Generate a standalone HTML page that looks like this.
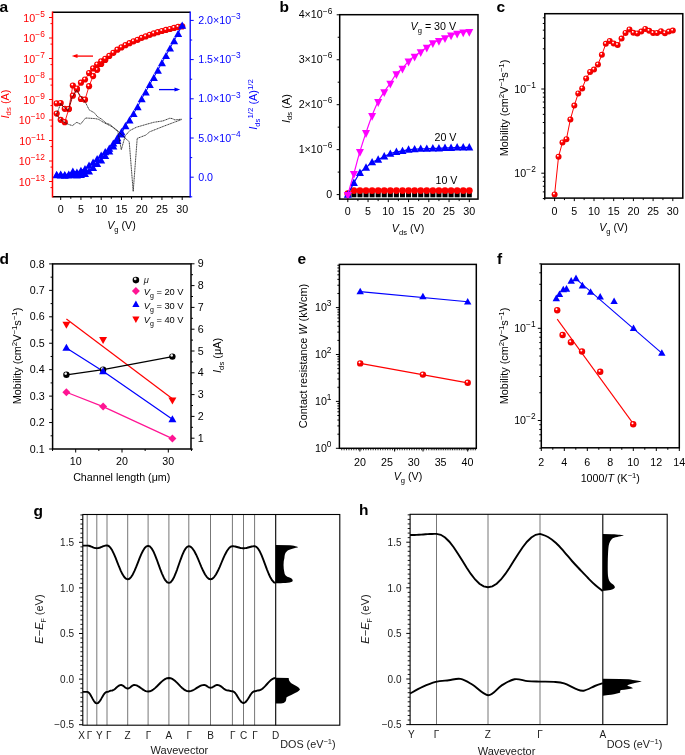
<!DOCTYPE html><html><head><meta charset="utf-8"><style>html,body{margin:0;padding:0;background:#fff;}svg{display:block;will-change:transform;}</style></head><body>
<svg width="685" height="755" viewBox="0 0 685 755" font-family='"Liberation Sans", sans-serif'>
<defs>
<radialGradient id="gr" cx="0.42" cy="0.38" r="0.62" fx="0.38" fy="0.33"><stop offset="0" stop-color="#fff"/><stop offset="0.1" stop-color="#fff"/><stop offset="0.36" stop-color="#f00"/><stop offset="1" stop-color="#e80000"/></radialGradient>
<radialGradient id="gk" cx="0.4" cy="0.35" r="0.6" fx="0.38" fy="0.3"><stop offset="0" stop-color="#fff"/><stop offset="0.22" stop-color="#ddd"/><stop offset="0.45" stop-color="#000"/><stop offset="1" stop-color="#000"/></radialGradient>
</defs>
<rect width="685" height="755" fill="#fff"/>
<text x="-0.5" y="12" font-size="15.5" text-anchor="start" fill="#000" font-weight="bold" font-style="normal" >a</text>
<text x="279.5" y="11.5" font-size="15.5" text-anchor="start" fill="#000" font-weight="bold" font-style="normal" >b</text>
<text x="496.5" y="11.5" font-size="15.5" text-anchor="start" fill="#000" font-weight="bold" font-style="normal" >c</text>
<text x="-0.5" y="264.3" font-size="15.5" text-anchor="start" fill="#000" font-weight="bold" font-style="normal" >d</text>
<text x="297.5" y="264.3" font-size="15.5" text-anchor="start" fill="#000" font-weight="bold" font-style="normal" >e</text>
<text x="497" y="264" font-size="15.5" text-anchor="start" fill="#000" font-weight="bold" font-style="normal" >f</text>
<text x="33.5" y="516" font-size="15.5" text-anchor="start" fill="#000" font-weight="bold" font-style="normal" >g</text>
<text x="359" y="514.8" font-size="15.5" text-anchor="start" fill="#000" font-weight="bold" font-style="normal" >h</text>
<polyline points="56.65,103.4 60.7,103 64.75,108.8 68.8,109.1 72.85,95.7 76.9,89.5 80.95,99 85,99.7 89.05,86.2 93.1,76.1 97.15,69.8 101.2,64 105.25,60" fill="none" stroke="#ff0000" stroke-width="0.9" stroke-linejoin="round" />
<polyline points="56.65,113.6 60.7,119.8 64.75,122.2 68.8,109 72.85,85.5 76.9,88.5 80.95,82.7 85,79.5 89.05,73.1 93.1,68.4 97.15,64.5 101.2,61.4 105.25,58.8 109.3,55.9 113.35,52.8 117.4,49.7 121.45,47.4 125.5,45.2 129.55,43.2 133.6,41.3 137.65,39.8 141.7,37.8 145.75,36.4 149.8,34.8 153.85,33.4 157.9,32.2 161.95,31 166,29.9 170.05,29 174.1,27.9 178.15,26.9 182.2,26.4" fill="none" stroke="#ff0000" stroke-width="0.9" stroke-linejoin="round" />
<circle cx="56.65" cy="103.4" r="3.1" fill="url(#gr)"/>
<circle cx="60.7" cy="103" r="3.1" fill="url(#gr)"/>
<circle cx="64.75" cy="108.8" r="3.1" fill="url(#gr)"/>
<circle cx="68.8" cy="109.1" r="3.1" fill="url(#gr)"/>
<circle cx="72.85" cy="95.7" r="3.1" fill="url(#gr)"/>
<circle cx="76.9" cy="89.5" r="3.1" fill="url(#gr)"/>
<circle cx="80.95" cy="99" r="3.1" fill="url(#gr)"/>
<circle cx="85" cy="99.7" r="3.1" fill="url(#gr)"/>
<circle cx="89.05" cy="86.2" r="3.1" fill="url(#gr)"/>
<circle cx="93.1" cy="76.1" r="3.1" fill="url(#gr)"/>
<circle cx="97.15" cy="69.8" r="3.1" fill="url(#gr)"/>
<circle cx="101.2" cy="64" r="3.1" fill="url(#gr)"/>
<circle cx="105.25" cy="60" r="3.1" fill="url(#gr)"/>
<circle cx="56.65" cy="113.6" r="3.1" fill="url(#gr)"/>
<circle cx="60.7" cy="119.8" r="3.1" fill="url(#gr)"/>
<circle cx="64.75" cy="122.2" r="3.1" fill="url(#gr)"/>
<circle cx="68.8" cy="109" r="3.1" fill="url(#gr)"/>
<circle cx="72.85" cy="85.5" r="3.1" fill="url(#gr)"/>
<circle cx="76.9" cy="88.5" r="3.1" fill="url(#gr)"/>
<circle cx="80.95" cy="82.7" r="3.1" fill="url(#gr)"/>
<circle cx="85" cy="79.5" r="3.1" fill="url(#gr)"/>
<circle cx="89.05" cy="73.1" r="3.1" fill="url(#gr)"/>
<circle cx="93.1" cy="68.4" r="3.1" fill="url(#gr)"/>
<circle cx="97.15" cy="64.5" r="3.1" fill="url(#gr)"/>
<circle cx="101.2" cy="61.4" r="3.1" fill="url(#gr)"/>
<circle cx="105.25" cy="58.8" r="3.1" fill="url(#gr)"/>
<circle cx="109.3" cy="55.9" r="3.1" fill="url(#gr)"/>
<circle cx="113.35" cy="52.8" r="3.1" fill="url(#gr)"/>
<circle cx="117.4" cy="49.7" r="3.1" fill="url(#gr)"/>
<circle cx="121.45" cy="47.4" r="3.1" fill="url(#gr)"/>
<circle cx="125.5" cy="45.2" r="3.1" fill="url(#gr)"/>
<circle cx="129.55" cy="43.2" r="3.1" fill="url(#gr)"/>
<circle cx="133.6" cy="41.3" r="3.1" fill="url(#gr)"/>
<circle cx="137.65" cy="39.8" r="3.1" fill="url(#gr)"/>
<circle cx="141.7" cy="37.8" r="3.1" fill="url(#gr)"/>
<circle cx="145.75" cy="36.4" r="3.1" fill="url(#gr)"/>
<circle cx="149.8" cy="34.8" r="3.1" fill="url(#gr)"/>
<circle cx="153.85" cy="33.4" r="3.1" fill="url(#gr)"/>
<circle cx="157.9" cy="32.2" r="3.1" fill="url(#gr)"/>
<circle cx="161.95" cy="31" r="3.1" fill="url(#gr)"/>
<circle cx="166" cy="29.9" r="3.1" fill="url(#gr)"/>
<circle cx="170.05" cy="29" r="3.1" fill="url(#gr)"/>
<circle cx="174.1" cy="27.9" r="3.1" fill="url(#gr)"/>
<circle cx="178.15" cy="26.9" r="3.1" fill="url(#gr)"/>
<circle cx="182.2" cy="26.4" r="3.1" fill="url(#gr)"/>
<polyline points="56.65,174.6 60.7,174.8 64.75,175.2 68.8,175 72.85,174.5 76.9,174.8 80.95,174.5 85,173.5 89.05,171 93.1,167.4 97.15,163.4 101.2,159.9 105.25,155.5 109.3,151 113.35,146 117.4,140.5 121.45,134 125.5,125.7" fill="none" stroke="#0000ff" stroke-width="1" stroke-linejoin="round" />
<polyline points="56.65,174.5 60.7,174 64.75,174.5 68.8,174 72.85,171 76.9,172 80.95,170.4 85,168.6 89.05,165.1 93.1,162.2 97.15,158.7 101.2,155.2 105.25,151.7 109.3,148.2 113.35,143 117.4,137.7 121.45,131.6 125.5,125.7 129.55,119.9 133.6,113.5 137.65,106.7 141.7,98.7 145.75,91.9 149.8,84.4 153.85,77.3 157.9,70.1 161.95,62.6 166,55.5 170.05,48 174.1,40.6 178.15,33.4 182.2,25.2" fill="none" stroke="#0000ff" stroke-width="1" stroke-linejoin="round" />
<polygon points="56.65,171 52.65,178.2 60.65,178.2" fill="#0000ff"/>
<polygon points="60.7,171.2 56.7,178.4 64.7,178.4" fill="#0000ff"/>
<polygon points="64.75,171.6 60.75,178.8 68.75,178.8" fill="#0000ff"/>
<polygon points="68.8,171.4 64.8,178.6 72.8,178.6" fill="#0000ff"/>
<polygon points="72.85,170.9 68.85,178.1 76.85,178.1" fill="#0000ff"/>
<polygon points="76.9,171.2 72.9,178.4 80.9,178.4" fill="#0000ff"/>
<polygon points="80.95,170.9 76.95,178.1 84.95,178.1" fill="#0000ff"/>
<polygon points="85,169.9 81,177.1 89,177.1" fill="#0000ff"/>
<polygon points="89.05,167.4 85.05,174.6 93.05,174.6" fill="#0000ff"/>
<polygon points="93.1,163.8 89.1,171 97.1,171" fill="#0000ff"/>
<polygon points="97.15,159.8 93.15,167 101.15,167" fill="#0000ff"/>
<polygon points="101.2,156.3 97.2,163.5 105.2,163.5" fill="#0000ff"/>
<polygon points="105.25,151.9 101.25,159.1 109.25,159.1" fill="#0000ff"/>
<polygon points="109.3,147.4 105.3,154.6 113.3,154.6" fill="#0000ff"/>
<polygon points="113.35,142.4 109.35,149.6 117.35,149.6" fill="#0000ff"/>
<polygon points="117.4,136.9 113.4,144.1 121.4,144.1" fill="#0000ff"/>
<polygon points="121.45,130.4 117.45,137.6 125.45,137.6" fill="#0000ff"/>
<polygon points="56.65,170.9 52.65,178.1 60.65,178.1" fill="#0000ff"/>
<polygon points="60.7,170.4 56.7,177.6 64.7,177.6" fill="#0000ff"/>
<polygon points="64.75,170.9 60.75,178.1 68.75,178.1" fill="#0000ff"/>
<polygon points="68.8,170.4 64.8,177.6 72.8,177.6" fill="#0000ff"/>
<polygon points="72.85,167.4 68.85,174.6 76.85,174.6" fill="#0000ff"/>
<polygon points="76.9,168.4 72.9,175.6 80.9,175.6" fill="#0000ff"/>
<polygon points="80.95,166.8 76.95,174 84.95,174" fill="#0000ff"/>
<polygon points="85,165 81,172.2 89,172.2" fill="#0000ff"/>
<polygon points="89.05,161.5 85.05,168.7 93.05,168.7" fill="#0000ff"/>
<polygon points="93.1,158.6 89.1,165.8 97.1,165.8" fill="#0000ff"/>
<polygon points="97.15,155.1 93.15,162.3 101.15,162.3" fill="#0000ff"/>
<polygon points="101.2,151.6 97.2,158.8 105.2,158.8" fill="#0000ff"/>
<polygon points="105.25,148.1 101.25,155.3 109.25,155.3" fill="#0000ff"/>
<polygon points="109.3,144.6 105.3,151.8 113.3,151.8" fill="#0000ff"/>
<polygon points="113.35,139.4 109.35,146.6 117.35,146.6" fill="#0000ff"/>
<polygon points="117.4,134.1 113.4,141.3 121.4,141.3" fill="#0000ff"/>
<polygon points="121.45,128 117.45,135.2 125.45,135.2" fill="#0000ff"/>
<polygon points="125.5,122.1 121.5,129.3 129.5,129.3" fill="#0000ff"/>
<polygon points="129.55,116.3 125.55,123.5 133.55,123.5" fill="#0000ff"/>
<polygon points="133.6,109.9 129.6,117.1 137.6,117.1" fill="#0000ff"/>
<polygon points="137.65,103.1 133.65,110.3 141.65,110.3" fill="#0000ff"/>
<polygon points="141.7,95.1 137.7,102.3 145.7,102.3" fill="#0000ff"/>
<polygon points="145.75,88.3 141.75,95.5 149.75,95.5" fill="#0000ff"/>
<polygon points="149.8,80.8 145.8,88 153.8,88" fill="#0000ff"/>
<polygon points="153.85,73.7 149.85,80.9 157.85,80.9" fill="#0000ff"/>
<polygon points="157.9,66.5 153.9,73.7 161.9,73.7" fill="#0000ff"/>
<polygon points="161.95,59 157.95,66.2 165.95,66.2" fill="#0000ff"/>
<polygon points="166,51.9 162,59.1 170,59.1" fill="#0000ff"/>
<polygon points="170.05,44.4 166.05,51.6 174.05,51.6" fill="#0000ff"/>
<polygon points="174.1,37 170.1,44.2 178.1,44.2" fill="#0000ff"/>
<polygon points="178.15,29.8 174.15,37 182.15,37" fill="#0000ff"/>
<polygon points="182.2,21.6 178.2,28.8 186.2,28.8" fill="#0000ff"/>
<polyline points="56.4,114.3 58.6,109.2 60.8,103.4 63.7,107 68.1,110.7 71.7,98.2 76.5,90.2 81.2,96.8 84.5,101.2 86.3,104.1 89.2,109.9 94.3,112.8 97.3,116.5 102,119.4 106,123.1 110,124.5 115.4,129.6 117.9,131.1 120,133 123.2,136.4 125,138 129.2,141.7 133.2,191.4 137.2,138.4 145.8,135.1 149.7,131.8 163,126.5 173.6,122.5 181.5,119.6" fill="none" stroke="#111" stroke-width="0.8" stroke-linejoin="round" stroke-dasharray="1.3,0.4"/>
<polyline points="56.4,115 60.4,119.4 65.9,123.1 68.8,124.5 72.4,125.6 76.8,122.3 80.5,124.2 85.6,118 90.7,118.3 95.8,118.7 98.7,119.4 102,121.5 104.9,123.1 113,127.2 117.7,130.7 121.3,149.7 125.2,135.8 129.9,130.5 136.5,127.2 145.8,124.5 153.7,122.3 163,120.9 169.6,118.3 172,118.5 174.9,119.9 181.5,119.2" fill="none" stroke="#111" stroke-width="0.8" stroke-linejoin="round" stroke-dasharray="1.3,0.4"/>
<line x1="52.5" y1="12.2" x2="190.2" y2="12.2" stroke="#000" stroke-width="1.5" />
<line x1="52.5" y1="196.8" x2="190.2" y2="196.8" stroke="#000" stroke-width="1.5" />
<line x1="52.5" y1="11.5" x2="52.5" y2="197.5" stroke="#ff0000" stroke-width="1.5" />
<line x1="190.2" y1="11.5" x2="190.2" y2="197.5" stroke="#0000ff" stroke-width="1.3" />
<line x1="49" y1="17.5" x2="52.5" y2="17.5" stroke="#ff0000" stroke-width="1" />
<line x1="50.5" y1="23.6" x2="52.5" y2="23.6" stroke="#ff0000" stroke-width="1" />
<text transform="translate(44.8,21.7) scale(1.02,1)" font-size="10.5" text-anchor="end" fill="#ff0000" font-weight="normal" font-style="normal" >10<tspan dy="-4.9" font-size="8.2">−5</tspan></text>
<line x1="49" y1="38" x2="52.5" y2="38" stroke="#ff0000" stroke-width="1" />
<line x1="50.5" y1="44.1" x2="52.5" y2="44.1" stroke="#ff0000" stroke-width="1" />
<text transform="translate(44.8,42.2) scale(1.02,1)" font-size="10.5" text-anchor="end" fill="#ff0000" font-weight="normal" font-style="normal" >10<tspan dy="-4.9" font-size="8.2">−6</tspan></text>
<line x1="49" y1="58.5" x2="52.5" y2="58.5" stroke="#ff0000" stroke-width="1" />
<line x1="50.5" y1="64.6" x2="52.5" y2="64.6" stroke="#ff0000" stroke-width="1" />
<text transform="translate(44.8,62.7) scale(1.02,1)" font-size="10.5" text-anchor="end" fill="#ff0000" font-weight="normal" font-style="normal" >10<tspan dy="-4.9" font-size="8.2">−7</tspan></text>
<line x1="49" y1="79" x2="52.5" y2="79" stroke="#ff0000" stroke-width="1" />
<line x1="50.5" y1="85.1" x2="52.5" y2="85.1" stroke="#ff0000" stroke-width="1" />
<text transform="translate(44.8,83.2) scale(1.02,1)" font-size="10.5" text-anchor="end" fill="#ff0000" font-weight="normal" font-style="normal" >10<tspan dy="-4.9" font-size="8.2">−8</tspan></text>
<line x1="49" y1="99.5" x2="52.5" y2="99.5" stroke="#ff0000" stroke-width="1" />
<line x1="50.5" y1="105.6" x2="52.5" y2="105.6" stroke="#ff0000" stroke-width="1" />
<text transform="translate(44.8,103.7) scale(1.02,1)" font-size="10.5" text-anchor="end" fill="#ff0000" font-weight="normal" font-style="normal" >10<tspan dy="-4.9" font-size="8.2">−9</tspan></text>
<line x1="49" y1="120" x2="52.5" y2="120" stroke="#ff0000" stroke-width="1" />
<line x1="50.5" y1="126.1" x2="52.5" y2="126.1" stroke="#ff0000" stroke-width="1" />
<text transform="translate(44.8,124.2) scale(1.02,1)" font-size="10.5" text-anchor="end" fill="#ff0000" font-weight="normal" font-style="normal" >10<tspan dy="-4.9" font-size="8.2">−10</tspan></text>
<line x1="49" y1="140.5" x2="52.5" y2="140.5" stroke="#ff0000" stroke-width="1" />
<line x1="50.5" y1="146.6" x2="52.5" y2="146.6" stroke="#ff0000" stroke-width="1" />
<text transform="translate(44.8,144.7) scale(1.02,1)" font-size="10.5" text-anchor="end" fill="#ff0000" font-weight="normal" font-style="normal" >10<tspan dy="-4.9" font-size="8.2">−11</tspan></text>
<line x1="49" y1="161" x2="52.5" y2="161" stroke="#ff0000" stroke-width="1" />
<line x1="50.5" y1="167.1" x2="52.5" y2="167.1" stroke="#ff0000" stroke-width="1" />
<text transform="translate(44.8,165.2) scale(1.02,1)" font-size="10.5" text-anchor="end" fill="#ff0000" font-weight="normal" font-style="normal" >10<tspan dy="-4.9" font-size="8.2">−12</tspan></text>
<line x1="49" y1="181.5" x2="52.5" y2="181.5" stroke="#ff0000" stroke-width="1" />
<line x1="50.5" y1="187.6" x2="52.5" y2="187.6" stroke="#ff0000" stroke-width="1" />
<text transform="translate(44.8,185.7) scale(1.02,1)" font-size="10.5" text-anchor="end" fill="#ff0000" font-weight="normal" font-style="normal" >10<tspan dy="-4.9" font-size="8.2">−13</tspan></text>
<line x1="190.2" y1="177.2" x2="193.7" y2="177.2" stroke="#0000ff" stroke-width="1" />
<line x1="190.2" y1="157.6" x2="192.2" y2="157.6" stroke="#0000ff" stroke-width="1" />
<text transform="translate(198.2,180.8) scale(1.02,1)" font-size="10.5" text-anchor="start" fill="#0000ff" font-weight="normal" font-style="normal" >0.0</text>
<line x1="190.2" y1="138" x2="193.7" y2="138" stroke="#0000ff" stroke-width="1" />
<line x1="190.2" y1="118.4" x2="192.2" y2="118.4" stroke="#0000ff" stroke-width="1" />
<text transform="translate(198.2,141.6) scale(1.02,1)" font-size="10.5" text-anchor="start" fill="#0000ff" font-weight="normal" font-style="normal" >5.0×10<tspan dy="-4.9" font-size="8.2">−4</tspan></text>
<line x1="190.2" y1="98.8" x2="193.7" y2="98.8" stroke="#0000ff" stroke-width="1" />
<line x1="190.2" y1="79.2" x2="192.2" y2="79.2" stroke="#0000ff" stroke-width="1" />
<text transform="translate(198.2,102.4) scale(1.02,1)" font-size="10.5" text-anchor="start" fill="#0000ff" font-weight="normal" font-style="normal" >1.0×10<tspan dy="-4.9" font-size="8.2">−3</tspan></text>
<line x1="190.2" y1="59.6" x2="193.7" y2="59.6" stroke="#0000ff" stroke-width="1" />
<line x1="190.2" y1="40" x2="192.2" y2="40" stroke="#0000ff" stroke-width="1" />
<text transform="translate(198.2,63.2) scale(1.02,1)" font-size="10.5" text-anchor="start" fill="#0000ff" font-weight="normal" font-style="normal" >1.5×10<tspan dy="-4.9" font-size="8.2">−3</tspan></text>
<line x1="190.2" y1="20.4" x2="193.7" y2="20.4" stroke="#0000ff" stroke-width="1" />
<text transform="translate(198.2,24) scale(1.02,1)" font-size="10.5" text-anchor="start" fill="#0000ff" font-weight="normal" font-style="normal" >2.0×10<tspan dy="-4.9" font-size="8.2">−3</tspan></text>
<line x1="190.2" y1="196.8" x2="192.2" y2="196.8" stroke="#0000ff" stroke-width="1" />
<line x1="60.7" y1="196.8" x2="60.7" y2="200" stroke="#000" stroke-width="1" />
<line x1="70.8" y1="196.8" x2="70.8" y2="198.8" stroke="#000" stroke-width="1" />
<text transform="translate(60.7,213) scale(1.02,1)" font-size="10.5" text-anchor="middle" fill="#000" font-weight="normal" font-style="normal" >0</text>
<line x1="80.95" y1="196.8" x2="80.95" y2="200" stroke="#000" stroke-width="1" />
<line x1="91.05" y1="196.8" x2="91.05" y2="198.8" stroke="#000" stroke-width="1" />
<text transform="translate(80.95,213) scale(1.02,1)" font-size="10.5" text-anchor="middle" fill="#000" font-weight="normal" font-style="normal" >5</text>
<line x1="101.2" y1="196.8" x2="101.2" y2="200" stroke="#000" stroke-width="1" />
<line x1="111.3" y1="196.8" x2="111.3" y2="198.8" stroke="#000" stroke-width="1" />
<text transform="translate(101.2,213) scale(1.02,1)" font-size="10.5" text-anchor="middle" fill="#000" font-weight="normal" font-style="normal" >10</text>
<line x1="121.45" y1="196.8" x2="121.45" y2="200" stroke="#000" stroke-width="1" />
<line x1="131.55" y1="196.8" x2="131.55" y2="198.8" stroke="#000" stroke-width="1" />
<text transform="translate(121.45,213) scale(1.02,1)" font-size="10.5" text-anchor="middle" fill="#000" font-weight="normal" font-style="normal" >15</text>
<line x1="141.7" y1="196.8" x2="141.7" y2="200" stroke="#000" stroke-width="1" />
<line x1="151.8" y1="196.8" x2="151.8" y2="198.8" stroke="#000" stroke-width="1" />
<text transform="translate(141.7,213) scale(1.02,1)" font-size="10.5" text-anchor="middle" fill="#000" font-weight="normal" font-style="normal" >20</text>
<line x1="161.95" y1="196.8" x2="161.95" y2="200" stroke="#000" stroke-width="1" />
<line x1="172.05" y1="196.8" x2="172.05" y2="198.8" stroke="#000" stroke-width="1" />
<text transform="translate(161.95,213) scale(1.02,1)" font-size="10.5" text-anchor="middle" fill="#000" font-weight="normal" font-style="normal" >25</text>
<line x1="182.2" y1="196.8" x2="182.2" y2="200" stroke="#000" stroke-width="1" />
<text transform="translate(182.2,213) scale(1.02,1)" font-size="10.5" text-anchor="middle" fill="#000" font-weight="normal" font-style="normal" >30</text>
<text transform="translate(121.5,229) scale(1.02,1)" font-size="10.5" text-anchor="middle" fill="#000" font-weight="normal" font-style="normal" ><tspan font-style="italic">V</tspan><tspan dy="2.5" font-size="7.5">g</tspan><tspan dy="-2.5"> (V)</tspan></text>
<line x1="74" y1="56.1" x2="93" y2="56.1" stroke="#ff0000" stroke-width="1.3" />
<polygon points="71.8,56.1 77.5,54.1 77.5,58.1" fill="#ff0000"/>
<line x1="159" y1="89.6" x2="178" y2="89.6" stroke="#0000ff" stroke-width="1.3" />
<polygon points="180.2,89.6 174.5,87.6 174.5,91.6" fill="#0000ff"/>
<text transform="translate(8.5,104) rotate(-90) scale(1.04,1)" font-size="10.5" text-anchor="middle" fill="#ff0000"><tspan font-style="italic">I</tspan><tspan dy="2.5" font-size="7.5">ds</tspan><tspan dy="-2.5"> (A)</tspan></text>
<text transform="translate(257,104.5) rotate(-90) scale(1.04,1)" font-size="10.5" text-anchor="middle" fill="#0000ff"><tspan font-style="italic">I</tspan><tspan dy="2.5" font-size="7.5">ds</tspan><tspan dy="-6.5" font-size="7.5">1/2</tspan><tspan dy="4"> (A)</tspan><tspan dy="-4" font-size="7.5">1/2</tspan></text>
<rect x="345.3" y="192.3" width="5" height="5" fill="#000"/>
<rect x="351.38" y="192.3" width="5" height="5" fill="#000"/>
<rect x="357.45" y="192.3" width="5" height="5" fill="#000"/>
<rect x="363.53" y="192.3" width="5" height="5" fill="#000"/>
<rect x="369.6" y="192.3" width="5" height="5" fill="#000"/>
<rect x="375.68" y="192.3" width="5" height="5" fill="#000"/>
<rect x="381.75" y="192.3" width="5" height="5" fill="#000"/>
<rect x="387.82" y="192.3" width="5" height="5" fill="#000"/>
<rect x="393.9" y="192.3" width="5" height="5" fill="#000"/>
<rect x="399.98" y="192.3" width="5" height="5" fill="#000"/>
<rect x="406.05" y="192.3" width="5" height="5" fill="#000"/>
<rect x="412.12" y="192.3" width="5" height="5" fill="#000"/>
<rect x="418.2" y="192.3" width="5" height="5" fill="#000"/>
<rect x="424.27" y="192.3" width="5" height="5" fill="#000"/>
<rect x="430.35" y="192.3" width="5" height="5" fill="#000"/>
<rect x="436.43" y="192.3" width="5" height="5" fill="#000"/>
<rect x="442.5" y="192.3" width="5" height="5" fill="#000"/>
<rect x="448.57" y="192.3" width="5" height="5" fill="#000"/>
<rect x="454.65" y="192.3" width="5" height="5" fill="#000"/>
<rect x="460.73" y="192.3" width="5" height="5" fill="#000"/>
<rect x="466.8" y="192.3" width="5" height="5" fill="#000"/>
<circle cx="347.8" cy="193.7" r="3.4" fill="#ff0000"/>
<circle cx="353.88" cy="190.55" r="3.4" fill="#ff0000"/>
<circle cx="359.95" cy="190.55" r="3.4" fill="#ff0000"/>
<circle cx="366.03" cy="190.55" r="3.4" fill="#ff0000"/>
<circle cx="372.1" cy="190.55" r="3.4" fill="#ff0000"/>
<circle cx="378.18" cy="190.55" r="3.4" fill="#ff0000"/>
<circle cx="384.25" cy="190.55" r="3.4" fill="#ff0000"/>
<circle cx="390.32" cy="190.55" r="3.4" fill="#ff0000"/>
<circle cx="396.4" cy="190.55" r="3.4" fill="#ff0000"/>
<circle cx="402.48" cy="190.55" r="3.4" fill="#ff0000"/>
<circle cx="408.55" cy="190.55" r="3.4" fill="#ff0000"/>
<circle cx="414.62" cy="190.55" r="3.4" fill="#ff0000"/>
<circle cx="420.7" cy="190.55" r="3.4" fill="#ff0000"/>
<circle cx="426.77" cy="190.55" r="3.4" fill="#ff0000"/>
<circle cx="432.85" cy="190.55" r="3.4" fill="#ff0000"/>
<circle cx="438.93" cy="190.55" r="3.4" fill="#ff0000"/>
<circle cx="445" cy="190.55" r="3.4" fill="#ff0000"/>
<circle cx="451.07" cy="190.55" r="3.4" fill="#ff0000"/>
<circle cx="457.15" cy="190.55" r="3.4" fill="#ff0000"/>
<circle cx="463.23" cy="190.55" r="3.4" fill="#ff0000"/>
<circle cx="469.3" cy="190.55" r="3.4" fill="#ff0000"/>
<path d="M347.8,194.6 C348.81,192.65 351.85,186.55 353.88,182.91 C355.9,179.28 357.92,175.35 359.95,172.8 C361.98,170.25 364,169.39 366.03,167.63 C368.05,165.87 370.08,163.58 372.1,162.24 C374.12,160.89 376.15,160.51 378.18,159.54 C380.2,158.57 382.23,157.37 384.25,156.39 C386.27,155.42 388.3,154.44 390.32,153.7 C392.35,152.95 394.38,152.35 396.4,151.9 C398.42,151.45 400.45,151.37 402.48,151 C404.5,150.62 406.53,149.95 408.55,149.65 C410.57,149.35 412.6,149.35 414.62,149.2 C416.65,149.05 418.68,148.83 420.7,148.75 C422.72,148.68 424.75,148.83 426.77,148.75 C428.8,148.68 430.83,148.38 432.85,148.3 C434.88,148.23 436.9,148.38 438.93,148.3 C440.95,148.23 442.98,147.93 445,147.85 C447.02,147.78 449.05,147.93 451.07,147.85 C453.1,147.78 455.12,147.48 457.15,147.4 C459.17,147.33 461.2,147.4 463.23,147.4 C465.25,147.4 468.29,147.4 469.3,147.4" fill="none" stroke="#0000ff" stroke-width="1.2"/>
<polygon points="347.8,190.31 343.8,197.71 351.8,197.71" fill="#0000ff"/>
<polygon points="353.88,178.62 349.88,186.02 357.88,186.02" fill="#0000ff"/>
<polygon points="359.95,168.51 355.95,175.91 363.95,175.91" fill="#0000ff"/>
<polygon points="366.03,163.34 362.03,170.74 370.03,170.74" fill="#0000ff"/>
<polygon points="372.1,157.94 368.1,165.34 376.1,165.34" fill="#0000ff"/>
<polygon points="378.18,155.25 374.18,162.65 382.18,162.65" fill="#0000ff"/>
<polygon points="384.25,152.1 380.25,159.5 388.25,159.5" fill="#0000ff"/>
<polygon points="390.32,149.4 386.32,156.8 394.32,156.8" fill="#0000ff"/>
<polygon points="396.4,147.61 392.4,155.01 400.4,155.01" fill="#0000ff"/>
<polygon points="402.48,146.71 398.48,154.11 406.48,154.11" fill="#0000ff"/>
<polygon points="408.55,145.36 404.55,152.76 412.55,152.76" fill="#0000ff"/>
<polygon points="414.62,144.91 410.62,152.31 418.62,152.31" fill="#0000ff"/>
<polygon points="420.7,144.46 416.7,151.86 424.7,151.86" fill="#0000ff"/>
<polygon points="426.77,144.46 422.77,151.86 430.77,151.86" fill="#0000ff"/>
<polygon points="432.85,144.01 428.85,151.41 436.85,151.41" fill="#0000ff"/>
<polygon points="438.93,144.01 434.93,151.41 442.93,151.41" fill="#0000ff"/>
<polygon points="445,143.56 441,150.96 449,150.96" fill="#0000ff"/>
<polygon points="451.07,143.56 447.07,150.96 455.07,150.96" fill="#0000ff"/>
<polygon points="457.15,143.11 453.15,150.51 461.15,150.51" fill="#0000ff"/>
<polygon points="463.23,143.11 459.23,150.51 467.23,150.51" fill="#0000ff"/>
<polygon points="469.3,143.11 465.3,150.51 473.3,150.51" fill="#0000ff"/>
<path d="M347.8,194.6 C348.81,191.08 351.85,180.67 353.88,173.47 C355.9,166.28 357.92,158.27 359.95,151.45 C361.98,144.63 364,138.56 366.03,132.57 C368.05,126.58 370.08,120.66 372.1,115.49 C374.12,110.32 376.15,105.52 378.18,101.55 C380.2,97.58 382.23,94.74 384.25,91.66 C386.27,88.59 388.3,86.12 390.32,83.12 C392.35,80.13 394.38,76.16 396.4,73.68 C398.42,71.21 400.45,70.39 402.48,68.29 C404.5,66.19 406.53,63.12 408.55,61.1 C410.57,59.08 412.6,57.73 414.62,56.15 C416.65,54.58 418.68,53.16 420.7,51.66 C422.72,50.16 424.75,48.66 426.77,47.16 C428.8,45.67 430.83,43.79 432.85,42.67 C434.88,41.55 436.9,41.25 438.93,40.42 C440.95,39.6 442.98,38.62 445,37.72 C447.02,36.83 449.05,35.78 451.07,35.03 C453.1,34.28 455.12,33.75 457.15,33.23 C459.17,32.71 461.2,32.18 463.23,31.88 C465.25,31.58 468.29,31.51 469.3,31.43" fill="none" stroke="#ff00ff" stroke-width="1.2"/>
<polygon points="347.8,199.92 343.8,192.12 351.8,192.12" fill="#ff00ff"/>
<polygon points="353.88,178.8 349.88,171 357.88,171" fill="#ff00ff"/>
<polygon points="359.95,156.77 355.95,148.97 363.95,148.97" fill="#ff00ff"/>
<polygon points="366.03,137.89 362.03,130.09 370.03,130.09" fill="#ff00ff"/>
<polygon points="372.1,120.81 368.1,113.01 376.1,113.01" fill="#ff00ff"/>
<polygon points="378.18,106.88 374.18,99.08 382.18,99.08" fill="#ff00ff"/>
<polygon points="384.25,96.99 380.25,89.19 388.25,89.19" fill="#ff00ff"/>
<polygon points="390.32,88.45 386.32,80.65 394.32,80.65" fill="#ff00ff"/>
<polygon points="396.4,79.01 392.4,71.21 400.4,71.21" fill="#ff00ff"/>
<polygon points="402.48,73.61 398.48,65.81 406.48,65.81" fill="#ff00ff"/>
<polygon points="408.55,66.42 404.55,58.62 412.55,58.62" fill="#ff00ff"/>
<polygon points="414.62,61.48 410.62,53.68 418.62,53.68" fill="#ff00ff"/>
<polygon points="420.7,56.98 416.7,49.18 424.7,49.18" fill="#ff00ff"/>
<polygon points="426.77,52.49 422.77,44.69 430.77,44.69" fill="#ff00ff"/>
<polygon points="432.85,47.99 428.85,40.19 436.85,40.19" fill="#ff00ff"/>
<polygon points="438.93,45.75 434.93,37.95 442.93,37.95" fill="#ff00ff"/>
<polygon points="445,43.05 441,35.25 449,35.25" fill="#ff00ff"/>
<polygon points="451.07,40.35 447.07,32.55 455.07,32.55" fill="#ff00ff"/>
<polygon points="457.15,38.55 453.15,30.75 461.15,30.75" fill="#ff00ff"/>
<polygon points="463.23,37.2 459.23,29.4 467.23,29.4" fill="#ff00ff"/>
<polygon points="469.3,36.76 465.3,28.96 473.3,28.96" fill="#ff00ff"/>
<rect x="339.7" y="14.7" width="138.3" height="184.4" fill="none" stroke="#000" stroke-width="1.5"/>
<line x1="336.7" y1="194.6" x2="339.7" y2="194.6" stroke="#000" stroke-width="1" />
<line x1="337.7" y1="172.1" x2="339.7" y2="172.1" stroke="#000" stroke-width="1" />
<text transform="translate(332.3,198.2) scale(1.02,1)" font-size="10.5" text-anchor="end" fill="#000" font-weight="normal" font-style="normal" >0</text>
<line x1="336.7" y1="149.65" x2="339.7" y2="149.65" stroke="#000" stroke-width="1" />
<line x1="337.7" y1="127.15" x2="339.7" y2="127.15" stroke="#000" stroke-width="1" />
<text transform="translate(332.3,153.25) scale(1.02,1)" font-size="10.5" text-anchor="end" fill="#000" font-weight="normal" font-style="normal" >1×10<tspan dy="-4.9" font-size="8.2">−6</tspan></text>
<line x1="336.7" y1="104.7" x2="339.7" y2="104.7" stroke="#000" stroke-width="1" />
<line x1="337.7" y1="82.2" x2="339.7" y2="82.2" stroke="#000" stroke-width="1" />
<text transform="translate(332.3,108.3) scale(1.02,1)" font-size="10.5" text-anchor="end" fill="#000" font-weight="normal" font-style="normal" >2×10<tspan dy="-4.9" font-size="8.2">−6</tspan></text>
<line x1="336.7" y1="59.75" x2="339.7" y2="59.75" stroke="#000" stroke-width="1" />
<line x1="337.7" y1="37.25" x2="339.7" y2="37.25" stroke="#000" stroke-width="1" />
<text transform="translate(332.3,63.35) scale(1.02,1)" font-size="10.5" text-anchor="end" fill="#000" font-weight="normal" font-style="normal" >3×10<tspan dy="-4.9" font-size="8.2">−6</tspan></text>
<line x1="336.7" y1="14.8" x2="339.7" y2="14.8" stroke="#000" stroke-width="1" />
<text transform="translate(332.3,18.4) scale(1.02,1)" font-size="10.5" text-anchor="end" fill="#000" font-weight="normal" font-style="normal" >4×10<tspan dy="-4.9" font-size="8.2">−6</tspan></text>
<line x1="347.8" y1="199.1" x2="347.8" y2="202.1" stroke="#000" stroke-width="1" />
<line x1="357.9" y1="199.1" x2="357.9" y2="201.1" stroke="#000" stroke-width="1" />
<text transform="translate(347.8,215) scale(1.02,1)" font-size="10.5" text-anchor="middle" fill="#000" font-weight="normal" font-style="normal" >0</text>
<line x1="368.05" y1="199.1" x2="368.05" y2="202.1" stroke="#000" stroke-width="1" />
<line x1="378.15" y1="199.1" x2="378.15" y2="201.1" stroke="#000" stroke-width="1" />
<text transform="translate(368.05,215) scale(1.02,1)" font-size="10.5" text-anchor="middle" fill="#000" font-weight="normal" font-style="normal" >5</text>
<line x1="388.3" y1="199.1" x2="388.3" y2="202.1" stroke="#000" stroke-width="1" />
<line x1="398.4" y1="199.1" x2="398.4" y2="201.1" stroke="#000" stroke-width="1" />
<text transform="translate(388.3,215) scale(1.02,1)" font-size="10.5" text-anchor="middle" fill="#000" font-weight="normal" font-style="normal" >10</text>
<line x1="408.55" y1="199.1" x2="408.55" y2="202.1" stroke="#000" stroke-width="1" />
<line x1="418.65" y1="199.1" x2="418.65" y2="201.1" stroke="#000" stroke-width="1" />
<text transform="translate(408.55,215) scale(1.02,1)" font-size="10.5" text-anchor="middle" fill="#000" font-weight="normal" font-style="normal" >15</text>
<line x1="428.8" y1="199.1" x2="428.8" y2="202.1" stroke="#000" stroke-width="1" />
<line x1="438.9" y1="199.1" x2="438.9" y2="201.1" stroke="#000" stroke-width="1" />
<text transform="translate(428.8,215) scale(1.02,1)" font-size="10.5" text-anchor="middle" fill="#000" font-weight="normal" font-style="normal" >20</text>
<line x1="449.05" y1="199.1" x2="449.05" y2="202.1" stroke="#000" stroke-width="1" />
<line x1="459.15" y1="199.1" x2="459.15" y2="201.1" stroke="#000" stroke-width="1" />
<text transform="translate(449.05,215) scale(1.02,1)" font-size="10.5" text-anchor="middle" fill="#000" font-weight="normal" font-style="normal" >25</text>
<line x1="469.3" y1="199.1" x2="469.3" y2="202.1" stroke="#000" stroke-width="1" />
<text transform="translate(469.3,215) scale(1.02,1)" font-size="10.5" text-anchor="middle" fill="#000" font-weight="normal" font-style="normal" >30</text>
<text transform="translate(410.5,30) scale(1.02,1)" font-size="10.5" text-anchor="start" fill="#000" font-weight="normal" font-style="normal" ><tspan font-style="italic">V</tspan><tspan dy="2.5" font-size="7.5">g</tspan><tspan dy="-2.5"> = 30 V</tspan></text>
<text transform="translate(434.5,140.5) scale(1.02,1)" font-size="10.5" text-anchor="start" fill="#000" font-weight="normal" font-style="normal" >20 V</text>
<text transform="translate(435.5,184.2) scale(1.02,1)" font-size="10.5" text-anchor="start" fill="#000" font-weight="normal" font-style="normal" >10 V</text>
<text transform="translate(408,232) scale(1.02,1)" font-size="10.5" text-anchor="middle" fill="#000" font-weight="normal" font-style="normal" ><tspan font-style="italic">V</tspan><tspan dy="2.5" font-size="7.5">ds</tspan><tspan dy="-2.5"> (V)</tspan></text>
<text transform="translate(289.5,108.6) rotate(-90) scale(1.04,1)" font-size="10.5" text-anchor="middle" fill="#000"><tspan font-style="italic">I</tspan><tspan dy="2.5" font-size="7.5">ds</tspan><tspan dy="-2.5"> (A)</tspan></text>
<polyline points="554.6,194.5 558.54,156.7 562.48,142.4 566.42,139.2 570.36,119.5 574.3,105.6 578.24,93.4 582.18,88.4 586.12,78.5 590.06,72 594,69.6 597.94,64.5 601.88,54.7 605.82,43.8 609.76,41 613.7,43.5 617.64,44.9 621.58,38.6 625.52,32.9 629.46,29.4 633.4,32.8 637.34,33.4 641.28,31.6 645.22,28.9 649.16,30.8 653.1,33 657.04,33 660.98,31.3 664.92,33.2 668.86,31.6 672.8,30.6" fill="none" stroke="#ff0000" stroke-width="1" stroke-linejoin="round" />
<circle cx="554.6" cy="194.5" r="3.0" fill="url(#gr)"/>
<circle cx="558.54" cy="156.7" r="3.0" fill="url(#gr)"/>
<circle cx="562.48" cy="142.4" r="3.0" fill="url(#gr)"/>
<circle cx="566.42" cy="139.2" r="3.0" fill="url(#gr)"/>
<circle cx="570.36" cy="119.5" r="3.0" fill="url(#gr)"/>
<circle cx="574.3" cy="105.6" r="3.0" fill="url(#gr)"/>
<circle cx="578.24" cy="93.4" r="3.0" fill="url(#gr)"/>
<circle cx="582.18" cy="88.4" r="3.0" fill="url(#gr)"/>
<circle cx="586.12" cy="78.5" r="3.0" fill="url(#gr)"/>
<circle cx="590.06" cy="72" r="3.0" fill="url(#gr)"/>
<circle cx="594" cy="69.6" r="3.0" fill="url(#gr)"/>
<circle cx="597.94" cy="64.5" r="3.0" fill="url(#gr)"/>
<circle cx="601.88" cy="54.7" r="3.0" fill="url(#gr)"/>
<circle cx="605.82" cy="43.8" r="3.0" fill="url(#gr)"/>
<circle cx="609.76" cy="41" r="3.0" fill="url(#gr)"/>
<circle cx="613.7" cy="43.5" r="3.0" fill="url(#gr)"/>
<circle cx="617.64" cy="44.9" r="3.0" fill="url(#gr)"/>
<circle cx="621.58" cy="38.6" r="3.0" fill="url(#gr)"/>
<circle cx="625.52" cy="32.9" r="3.0" fill="url(#gr)"/>
<circle cx="629.46" cy="29.4" r="3.0" fill="url(#gr)"/>
<circle cx="633.4" cy="32.8" r="3.0" fill="url(#gr)"/>
<circle cx="637.34" cy="33.4" r="3.0" fill="url(#gr)"/>
<circle cx="641.28" cy="31.6" r="3.0" fill="url(#gr)"/>
<circle cx="645.22" cy="28.9" r="3.0" fill="url(#gr)"/>
<circle cx="649.16" cy="30.8" r="3.0" fill="url(#gr)"/>
<circle cx="653.1" cy="33" r="3.0" fill="url(#gr)"/>
<circle cx="657.04" cy="33" r="3.0" fill="url(#gr)"/>
<circle cx="660.98" cy="31.3" r="3.0" fill="url(#gr)"/>
<circle cx="664.92" cy="33.2" r="3.0" fill="url(#gr)"/>
<circle cx="668.86" cy="31.6" r="3.0" fill="url(#gr)"/>
<circle cx="672.8" cy="30.6" r="3.0" fill="url(#gr)"/>
<rect x="544.8" y="13.7" width="138" height="184.4" fill="none" stroke="#000" stroke-width="1.5"/>
<line x1="542.8" y1="198.55" x2="544.8" y2="198.55" stroke="#000" stroke-width="1" />
<line x1="542.8" y1="191.88" x2="544.8" y2="191.88" stroke="#000" stroke-width="1" />
<line x1="542.8" y1="186.24" x2="544.8" y2="186.24" stroke="#000" stroke-width="1" />
<line x1="542.8" y1="181.36" x2="544.8" y2="181.36" stroke="#000" stroke-width="1" />
<line x1="542.8" y1="177.05" x2="544.8" y2="177.05" stroke="#000" stroke-width="1" />
<line x1="541.3" y1="173.2" x2="544.8" y2="173.2" stroke="#000" stroke-width="1" />
<line x1="542.8" y1="147.85" x2="544.8" y2="147.85" stroke="#000" stroke-width="1" />
<line x1="542.8" y1="133.03" x2="544.8" y2="133.03" stroke="#000" stroke-width="1" />
<line x1="542.8" y1="122.51" x2="544.8" y2="122.51" stroke="#000" stroke-width="1" />
<line x1="542.8" y1="114.35" x2="544.8" y2="114.35" stroke="#000" stroke-width="1" />
<line x1="542.8" y1="107.68" x2="544.8" y2="107.68" stroke="#000" stroke-width="1" />
<line x1="542.8" y1="102.04" x2="544.8" y2="102.04" stroke="#000" stroke-width="1" />
<line x1="542.8" y1="97.16" x2="544.8" y2="97.16" stroke="#000" stroke-width="1" />
<line x1="542.8" y1="92.85" x2="544.8" y2="92.85" stroke="#000" stroke-width="1" />
<line x1="541.3" y1="89" x2="544.8" y2="89" stroke="#000" stroke-width="1" />
<line x1="542.8" y1="63.65" x2="544.8" y2="63.65" stroke="#000" stroke-width="1" />
<line x1="542.8" y1="48.83" x2="544.8" y2="48.83" stroke="#000" stroke-width="1" />
<line x1="542.8" y1="38.31" x2="544.8" y2="38.31" stroke="#000" stroke-width="1" />
<line x1="542.8" y1="30.15" x2="544.8" y2="30.15" stroke="#000" stroke-width="1" />
<line x1="542.8" y1="23.48" x2="544.8" y2="23.48" stroke="#000" stroke-width="1" />
<line x1="542.8" y1="17.84" x2="544.8" y2="17.84" stroke="#000" stroke-width="1" />
<text transform="translate(535.8,92.6) scale(1.02,1)" font-size="10.5" text-anchor="end" fill="#000" font-weight="normal" font-style="normal" >10<tspan dy="-4.9" font-size="8.2">−1</tspan></text>
<text transform="translate(535.8,176.8) scale(1.02,1)" font-size="10.5" text-anchor="end" fill="#000" font-weight="normal" font-style="normal" >10<tspan dy="-4.9" font-size="8.2">−2</tspan></text>
<line x1="554.6" y1="198.1" x2="554.6" y2="201.1" stroke="#000" stroke-width="1" />
<line x1="564.45" y1="198.1" x2="564.45" y2="200.1" stroke="#000" stroke-width="1" />
<text transform="translate(554.6,215) scale(1.02,1)" font-size="10.5" text-anchor="middle" fill="#000" font-weight="normal" font-style="normal" >0</text>
<line x1="574.3" y1="198.1" x2="574.3" y2="201.1" stroke="#000" stroke-width="1" />
<line x1="584.15" y1="198.1" x2="584.15" y2="200.1" stroke="#000" stroke-width="1" />
<text transform="translate(574.3,215) scale(1.02,1)" font-size="10.5" text-anchor="middle" fill="#000" font-weight="normal" font-style="normal" >5</text>
<line x1="594" y1="198.1" x2="594" y2="201.1" stroke="#000" stroke-width="1" />
<line x1="603.85" y1="198.1" x2="603.85" y2="200.1" stroke="#000" stroke-width="1" />
<text transform="translate(594,215) scale(1.02,1)" font-size="10.5" text-anchor="middle" fill="#000" font-weight="normal" font-style="normal" >10</text>
<line x1="613.7" y1="198.1" x2="613.7" y2="201.1" stroke="#000" stroke-width="1" />
<line x1="623.55" y1="198.1" x2="623.55" y2="200.1" stroke="#000" stroke-width="1" />
<text transform="translate(613.7,215) scale(1.02,1)" font-size="10.5" text-anchor="middle" fill="#000" font-weight="normal" font-style="normal" >15</text>
<line x1="633.4" y1="198.1" x2="633.4" y2="201.1" stroke="#000" stroke-width="1" />
<line x1="643.25" y1="198.1" x2="643.25" y2="200.1" stroke="#000" stroke-width="1" />
<text transform="translate(633.4,215) scale(1.02,1)" font-size="10.5" text-anchor="middle" fill="#000" font-weight="normal" font-style="normal" >20</text>
<line x1="653.1" y1="198.1" x2="653.1" y2="201.1" stroke="#000" stroke-width="1" />
<line x1="662.95" y1="198.1" x2="662.95" y2="200.1" stroke="#000" stroke-width="1" />
<text transform="translate(653.1,215) scale(1.02,1)" font-size="10.5" text-anchor="middle" fill="#000" font-weight="normal" font-style="normal" >25</text>
<line x1="672.8" y1="198.1" x2="672.8" y2="201.1" stroke="#000" stroke-width="1" />
<text transform="translate(672.8,215) scale(1.02,1)" font-size="10.5" text-anchor="middle" fill="#000" font-weight="normal" font-style="normal" >30</text>
<line x1="544.75" y1="198.1" x2="544.75" y2="200.1" stroke="#000" stroke-width="1" />
<text transform="translate(613.5,231) scale(1.02,1)" font-size="10.5" text-anchor="middle" fill="#000" font-weight="normal" font-style="normal" ><tspan font-style="italic">V</tspan><tspan dy="2.5" font-size="7.5">g</tspan><tspan dy="-2.5"> (V)</tspan></text>
<text transform="translate(507.5,108) rotate(-90) scale(1.04,1)" font-size="10.5" text-anchor="middle" fill="#000">Mobility (cm<tspan dy="-4" font-size="7.5">2</tspan><tspan dy="4">V</tspan><tspan dy="-4" font-size="7.5">−1</tspan><tspan dy="4">s</tspan><tspan dy="-4" font-size="7.5">−1</tspan><tspan dy="4">)</tspan></text>
<line x1="66.4" y1="319" x2="172.4" y2="398.8" stroke="#ff0000" stroke-width="1.2" />
<polyline points="66.4,347.9 103.1,371.2 172.4,419.3" fill="none" stroke="#0000ff" stroke-width="1.2" stroke-linejoin="round" />
<polyline points="66.4,374.8 103.1,369.7 172.4,356.6" fill="none" stroke="#000" stroke-width="1.2" stroke-linejoin="round" />
<polyline points="66.4,392.3 103.1,406.6 172.4,438.6" fill="none" stroke="#ff1493" stroke-width="1.2" stroke-linejoin="round" />
<circle cx="66.4" cy="374.8" r="3.2" fill="url(#gk)"/>
<circle cx="103.1" cy="369.7" r="3.2" fill="url(#gk)"/>
<circle cx="172.4" cy="356.6" r="3.2" fill="url(#gk)"/>
<polygon points="66.4,388.3 70.4,392.3 66.4,396.3 62.4,392.3" fill="#ff1493"/>
<polygon points="103.1,402.6 107.1,406.6 103.1,410.6 99.1,406.6" fill="#ff1493"/>
<polygon points="172.4,434.6 176.4,438.6 172.4,442.6 168.4,438.6" fill="#ff1493"/>
<polygon points="66.4,343.84 62.4,350.84 70.4,350.84" fill="#0000ff"/>
<polygon points="103.1,367.14 99.1,374.14 107.1,374.14" fill="#0000ff"/>
<polygon points="172.4,415.24 168.4,422.24 176.4,422.24" fill="#0000ff"/>
<polygon points="66.4,328.66 62.4,321.66 70.4,321.66" fill="#ff0000"/>
<polygon points="103.1,343.96 99.1,336.96 107.1,336.96" fill="#ff0000"/>
<polygon points="172.4,404.56 168.4,397.56 176.4,397.56" fill="#ff0000"/>
<rect x="52.6" y="263.9" width="138.4" height="185.1" fill="none" stroke="#000" stroke-width="1.5"/>
<line x1="49.1" y1="449" x2="52.6" y2="449" stroke="#000" stroke-width="1" />
<line x1="50.6" y1="435.8" x2="52.6" y2="435.8" stroke="#000" stroke-width="1" />
<text transform="translate(44.7,452.6) scale(1.02,1)" font-size="10.5" text-anchor="end" fill="#000" font-weight="normal" font-style="normal" >0.1</text>
<line x1="49.1" y1="422.56" x2="52.6" y2="422.56" stroke="#000" stroke-width="1" />
<line x1="50.6" y1="409.36" x2="52.6" y2="409.36" stroke="#000" stroke-width="1" />
<text transform="translate(44.7,426.16) scale(1.02,1)" font-size="10.5" text-anchor="end" fill="#000" font-weight="normal" font-style="normal" >0.2</text>
<line x1="49.1" y1="396.12" x2="52.6" y2="396.12" stroke="#000" stroke-width="1" />
<line x1="50.6" y1="382.92" x2="52.6" y2="382.92" stroke="#000" stroke-width="1" />
<text transform="translate(44.7,399.72) scale(1.02,1)" font-size="10.5" text-anchor="end" fill="#000" font-weight="normal" font-style="normal" >0.3</text>
<line x1="49.1" y1="369.68" x2="52.6" y2="369.68" stroke="#000" stroke-width="1" />
<line x1="50.6" y1="356.48" x2="52.6" y2="356.48" stroke="#000" stroke-width="1" />
<text transform="translate(44.7,373.28) scale(1.02,1)" font-size="10.5" text-anchor="end" fill="#000" font-weight="normal" font-style="normal" >0.4</text>
<line x1="49.1" y1="343.24" x2="52.6" y2="343.24" stroke="#000" stroke-width="1" />
<line x1="50.6" y1="330.04" x2="52.6" y2="330.04" stroke="#000" stroke-width="1" />
<text transform="translate(44.7,346.84) scale(1.02,1)" font-size="10.5" text-anchor="end" fill="#000" font-weight="normal" font-style="normal" >0.5</text>
<line x1="49.1" y1="316.8" x2="52.6" y2="316.8" stroke="#000" stroke-width="1" />
<line x1="50.6" y1="303.6" x2="52.6" y2="303.6" stroke="#000" stroke-width="1" />
<text transform="translate(44.7,320.4) scale(1.02,1)" font-size="10.5" text-anchor="end" fill="#000" font-weight="normal" font-style="normal" >0.6</text>
<line x1="49.1" y1="290.36" x2="52.6" y2="290.36" stroke="#000" stroke-width="1" />
<line x1="50.6" y1="277.16" x2="52.6" y2="277.16" stroke="#000" stroke-width="1" />
<text transform="translate(44.7,293.96) scale(1.02,1)" font-size="10.5" text-anchor="end" fill="#000" font-weight="normal" font-style="normal" >0.7</text>
<line x1="49.1" y1="263.92" x2="52.6" y2="263.92" stroke="#000" stroke-width="1" />
<text transform="translate(44.7,267.52) scale(1.02,1)" font-size="10.5" text-anchor="end" fill="#000" font-weight="normal" font-style="normal" >0.8</text>
<line x1="191" y1="438.2" x2="194.5" y2="438.2" stroke="#000" stroke-width="1" />
<line x1="191" y1="427.3" x2="193" y2="427.3" stroke="#000" stroke-width="1" />
<text transform="translate(197.8,441.8) scale(1.02,1)" font-size="10.5" text-anchor="start" fill="#000" font-weight="normal" font-style="normal" >1</text>
<line x1="191" y1="416.4" x2="194.5" y2="416.4" stroke="#000" stroke-width="1" />
<line x1="191" y1="405.5" x2="193" y2="405.5" stroke="#000" stroke-width="1" />
<text transform="translate(197.8,420) scale(1.02,1)" font-size="10.5" text-anchor="start" fill="#000" font-weight="normal" font-style="normal" >2</text>
<line x1="191" y1="394.6" x2="194.5" y2="394.6" stroke="#000" stroke-width="1" />
<line x1="191" y1="383.7" x2="193" y2="383.7" stroke="#000" stroke-width="1" />
<text transform="translate(197.8,398.2) scale(1.02,1)" font-size="10.5" text-anchor="start" fill="#000" font-weight="normal" font-style="normal" >3</text>
<line x1="191" y1="372.8" x2="194.5" y2="372.8" stroke="#000" stroke-width="1" />
<line x1="191" y1="361.9" x2="193" y2="361.9" stroke="#000" stroke-width="1" />
<text transform="translate(197.8,376.4) scale(1.02,1)" font-size="10.5" text-anchor="start" fill="#000" font-weight="normal" font-style="normal" >4</text>
<line x1="191" y1="351" x2="194.5" y2="351" stroke="#000" stroke-width="1" />
<line x1="191" y1="340.1" x2="193" y2="340.1" stroke="#000" stroke-width="1" />
<text transform="translate(197.8,354.6) scale(1.02,1)" font-size="10.5" text-anchor="start" fill="#000" font-weight="normal" font-style="normal" >5</text>
<line x1="191" y1="329.2" x2="194.5" y2="329.2" stroke="#000" stroke-width="1" />
<line x1="191" y1="318.3" x2="193" y2="318.3" stroke="#000" stroke-width="1" />
<text transform="translate(197.8,332.8) scale(1.02,1)" font-size="10.5" text-anchor="start" fill="#000" font-weight="normal" font-style="normal" >6</text>
<line x1="191" y1="307.4" x2="194.5" y2="307.4" stroke="#000" stroke-width="1" />
<line x1="191" y1="296.5" x2="193" y2="296.5" stroke="#000" stroke-width="1" />
<text transform="translate(197.8,311) scale(1.02,1)" font-size="10.5" text-anchor="start" fill="#000" font-weight="normal" font-style="normal" >7</text>
<line x1="191" y1="285.6" x2="194.5" y2="285.6" stroke="#000" stroke-width="1" />
<line x1="191" y1="274.7" x2="193" y2="274.7" stroke="#000" stroke-width="1" />
<text transform="translate(197.8,289.2) scale(1.02,1)" font-size="10.5" text-anchor="start" fill="#000" font-weight="normal" font-style="normal" >8</text>
<line x1="191" y1="263.8" x2="194.5" y2="263.8" stroke="#000" stroke-width="1" />
<text transform="translate(197.8,267.4) scale(1.02,1)" font-size="10.5" text-anchor="start" fill="#000" font-weight="normal" font-style="normal" >9</text>
<line x1="191" y1="449.1" x2="193" y2="449.1" stroke="#000" stroke-width="1" />
<line x1="75.7" y1="449" x2="75.7" y2="452.5" stroke="#000" stroke-width="1" />
<line x1="98.85" y1="449" x2="98.85" y2="451" stroke="#000" stroke-width="1" />
<text transform="translate(75.7,465) scale(1.02,1)" font-size="10.5" text-anchor="middle" fill="#000" font-weight="normal" font-style="normal" >10</text>
<line x1="122" y1="449" x2="122" y2="452.5" stroke="#000" stroke-width="1" />
<line x1="145.15" y1="449" x2="145.15" y2="451" stroke="#000" stroke-width="1" />
<text transform="translate(122,465) scale(1.02,1)" font-size="10.5" text-anchor="middle" fill="#000" font-weight="normal" font-style="normal" >20</text>
<line x1="168.3" y1="449" x2="168.3" y2="452.5" stroke="#000" stroke-width="1" />
<line x1="191.45" y1="449" x2="191.45" y2="451" stroke="#000" stroke-width="1" />
<text transform="translate(168.3,465) scale(1.02,1)" font-size="10.5" text-anchor="middle" fill="#000" font-weight="normal" font-style="normal" >30</text>
<line x1="52.55" y1="449" x2="52.55" y2="451" stroke="#000" stroke-width="1" />
<text transform="translate(121.7,481) scale(1.02,1)" font-size="10.5" text-anchor="middle" fill="#000" font-weight="normal" font-style="normal" >Channel length (μm)</text>
<text transform="translate(20.5,356) rotate(-90) scale(1.04,1)" font-size="10.5" text-anchor="middle" fill="#000">Mobility (cm<tspan dy="-4" font-size="7.5">2</tspan><tspan dy="4">V</tspan><tspan dy="-4" font-size="7.5">−1</tspan><tspan dy="4">s</tspan><tspan dy="-4" font-size="7.5">−1</tspan><tspan dy="4">)</tspan></text>
<text transform="translate(221,355.4) rotate(-90) scale(1.04,1)" font-size="10.5" text-anchor="middle" fill="#000"><tspan font-style="italic">I</tspan><tspan dy="2.5" font-size="7.5">ds</tspan><tspan dy="-2.5"> (μA)</tspan></text>
<circle cx="135.9" cy="280.1" r="3.3" fill="url(#gk)"/>
<polygon points="135.9,287 139.9,291 135.9,295 131.9,291" fill="#ff1493"/>
<polygon points="135.9,300.49 132.3,306.89 139.5,306.89" fill="#0000ff"/>
<polygon points="135.9,322.91 132.3,316.51 139.5,316.51" fill="#ff0000"/>
<text x="143.7" y="282.5" font-size="9.3" text-anchor="start" fill="#222" font-weight="normal" font-style="normal" ><tspan font-style="italic">μ</tspan></text>
<text x="143.7" y="295" font-size="9.3" text-anchor="start" fill="#000" font-weight="normal" font-style="normal" ><tspan font-style="italic">V</tspan><tspan dy="2.5" font-size="7">g</tspan><tspan dy="-2.5"> = 20 V</tspan></text>
<text x="143.7" y="309" font-size="9.3" text-anchor="start" fill="#000" font-weight="normal" font-style="normal" ><tspan font-style="italic">V</tspan><tspan dy="2.5" font-size="7">g</tspan><tspan dy="-2.5"> = 30 V</tspan></text>
<text x="143.7" y="323.4" font-size="9.3" text-anchor="start" fill="#000" font-weight="normal" font-style="normal" ><tspan font-style="italic">V</tspan><tspan dy="2.5" font-size="7">g</tspan><tspan dy="-2.5"> = 40 V</tspan></text>
<line x1="360.2" y1="363.4" x2="467.7" y2="382.9" stroke="#ff0000" stroke-width="1.1" />
<line x1="360.2" y1="291.6" x2="467.7" y2="301.8" stroke="#0000ff" stroke-width="1.1" />
<circle cx="360.2" cy="363.4" r="3.2" fill="url(#gr)"/>
<circle cx="422.9" cy="374.6" r="3.2" fill="url(#gr)"/>
<circle cx="467.7" cy="382.7" r="3.2" fill="url(#gr)"/>
<polygon points="360.2,287.77 356.5,294.37 363.9,294.37" fill="#0000ff"/>
<polygon points="422.9,292.67 419.2,299.27 426.6,299.27" fill="#0000ff"/>
<polygon points="467.7,297.97 464,304.57 471.4,304.57" fill="#0000ff"/>
<rect x="339.4" y="264.4" width="136.9" height="183.9" fill="none" stroke="#000" stroke-width="1.5"/>
<line x1="335.9" y1="448.3" x2="339.4" y2="448.3" stroke="#000" stroke-width="1" />
<line x1="337.4" y1="434.18" x2="339.4" y2="434.18" stroke="#000" stroke-width="1" />
<line x1="337.4" y1="425.92" x2="339.4" y2="425.92" stroke="#000" stroke-width="1" />
<line x1="337.4" y1="420.06" x2="339.4" y2="420.06" stroke="#000" stroke-width="1" />
<line x1="337.4" y1="415.52" x2="339.4" y2="415.52" stroke="#000" stroke-width="1" />
<line x1="337.4" y1="411.8" x2="339.4" y2="411.8" stroke="#000" stroke-width="1" />
<line x1="337.4" y1="408.66" x2="339.4" y2="408.66" stroke="#000" stroke-width="1" />
<line x1="337.4" y1="405.95" x2="339.4" y2="405.95" stroke="#000" stroke-width="1" />
<line x1="337.4" y1="403.55" x2="339.4" y2="403.55" stroke="#000" stroke-width="1" />
<text transform="translate(331.5,451.9) scale(1.02,1)" font-size="10.5" text-anchor="end" fill="#000" font-weight="normal" font-style="normal" >10<tspan dy="-4.9" font-size="8.2">0</tspan></text>
<line x1="335.9" y1="401.4" x2="339.4" y2="401.4" stroke="#000" stroke-width="1" />
<line x1="337.4" y1="387.28" x2="339.4" y2="387.28" stroke="#000" stroke-width="1" />
<line x1="337.4" y1="379.02" x2="339.4" y2="379.02" stroke="#000" stroke-width="1" />
<line x1="337.4" y1="373.16" x2="339.4" y2="373.16" stroke="#000" stroke-width="1" />
<line x1="337.4" y1="368.62" x2="339.4" y2="368.62" stroke="#000" stroke-width="1" />
<line x1="337.4" y1="364.9" x2="339.4" y2="364.9" stroke="#000" stroke-width="1" />
<line x1="337.4" y1="361.76" x2="339.4" y2="361.76" stroke="#000" stroke-width="1" />
<line x1="337.4" y1="359.05" x2="339.4" y2="359.05" stroke="#000" stroke-width="1" />
<line x1="337.4" y1="356.65" x2="339.4" y2="356.65" stroke="#000" stroke-width="1" />
<text transform="translate(331.5,405) scale(1.02,1)" font-size="10.5" text-anchor="end" fill="#000" font-weight="normal" font-style="normal" >10<tspan dy="-4.9" font-size="8.2">1</tspan></text>
<line x1="335.9" y1="354.5" x2="339.4" y2="354.5" stroke="#000" stroke-width="1" />
<line x1="337.4" y1="340.38" x2="339.4" y2="340.38" stroke="#000" stroke-width="1" />
<line x1="337.4" y1="332.12" x2="339.4" y2="332.12" stroke="#000" stroke-width="1" />
<line x1="337.4" y1="326.26" x2="339.4" y2="326.26" stroke="#000" stroke-width="1" />
<line x1="337.4" y1="321.72" x2="339.4" y2="321.72" stroke="#000" stroke-width="1" />
<line x1="337.4" y1="318" x2="339.4" y2="318" stroke="#000" stroke-width="1" />
<line x1="337.4" y1="314.86" x2="339.4" y2="314.86" stroke="#000" stroke-width="1" />
<line x1="337.4" y1="312.15" x2="339.4" y2="312.15" stroke="#000" stroke-width="1" />
<line x1="337.4" y1="309.75" x2="339.4" y2="309.75" stroke="#000" stroke-width="1" />
<text transform="translate(331.5,358.1) scale(1.02,1)" font-size="10.5" text-anchor="end" fill="#000" font-weight="normal" font-style="normal" >10<tspan dy="-4.9" font-size="8.2">2</tspan></text>
<line x1="335.9" y1="307.6" x2="339.4" y2="307.6" stroke="#000" stroke-width="1" />
<line x1="337.4" y1="293.48" x2="339.4" y2="293.48" stroke="#000" stroke-width="1" />
<line x1="337.4" y1="285.22" x2="339.4" y2="285.22" stroke="#000" stroke-width="1" />
<line x1="337.4" y1="279.36" x2="339.4" y2="279.36" stroke="#000" stroke-width="1" />
<line x1="337.4" y1="274.82" x2="339.4" y2="274.82" stroke="#000" stroke-width="1" />
<line x1="337.4" y1="271.1" x2="339.4" y2="271.1" stroke="#000" stroke-width="1" />
<line x1="337.4" y1="267.96" x2="339.4" y2="267.96" stroke="#000" stroke-width="1" />
<line x1="337.4" y1="265.25" x2="339.4" y2="265.25" stroke="#000" stroke-width="1" />
<text transform="translate(331.5,311.2) scale(1.02,1)" font-size="10.5" text-anchor="end" fill="#000" font-weight="normal" font-style="normal" >10<tspan dy="-4.9" font-size="8.2">3</tspan></text>
<text transform="translate(360,465.5) scale(1.02,1)" font-size="10.5" text-anchor="middle" fill="#000" font-weight="normal" font-style="normal" >20</text>
<text transform="translate(386.88,465.5) scale(1.02,1)" font-size="10.5" text-anchor="middle" fill="#000" font-weight="normal" font-style="normal" >25</text>
<text transform="translate(413.75,465.5) scale(1.02,1)" font-size="10.5" text-anchor="middle" fill="#000" font-weight="normal" font-style="normal" >30</text>
<text transform="translate(440.62,465.5) scale(1.02,1)" font-size="10.5" text-anchor="middle" fill="#000" font-weight="normal" font-style="normal" >35</text>
<text transform="translate(467.5,465.5) scale(1.02,1)" font-size="10.5" text-anchor="middle" fill="#000" font-weight="normal" font-style="normal" >40</text>
<line x1="359.9" y1="448.3" x2="359.9" y2="451.5" stroke="#000" stroke-width="1" />
<line x1="394.6" y1="448.3" x2="394.6" y2="451.5" stroke="#000" stroke-width="1" />
<line x1="423" y1="448.3" x2="423" y2="451.5" stroke="#000" stroke-width="1" />
<line x1="467.7" y1="448.3" x2="467.7" y2="451.5" stroke="#000" stroke-width="1" />
<line x1="341.73" y1="448.3" x2="341.73" y2="450.3" stroke="#000" stroke-width="0.8" />
<line x1="344.14" y1="448.3" x2="344.14" y2="450.3" stroke="#000" stroke-width="0.8" />
<line x1="346.56" y1="448.3" x2="346.56" y2="450.3" stroke="#000" stroke-width="0.8" />
<line x1="348.98" y1="448.3" x2="348.98" y2="450.3" stroke="#000" stroke-width="0.8" />
<line x1="351.4" y1="448.3" x2="351.4" y2="450.3" stroke="#000" stroke-width="0.8" />
<line x1="353.82" y1="448.3" x2="353.82" y2="450.3" stroke="#000" stroke-width="0.8" />
<line x1="356.24" y1="448.3" x2="356.24" y2="450.3" stroke="#000" stroke-width="0.8" />
<line x1="358.66" y1="448.3" x2="358.66" y2="450.3" stroke="#000" stroke-width="0.8" />
<line x1="361.07" y1="448.3" x2="361.07" y2="450.3" stroke="#000" stroke-width="0.8" />
<line x1="363.49" y1="448.3" x2="363.49" y2="450.3" stroke="#000" stroke-width="0.8" />
<line x1="365.91" y1="448.3" x2="365.91" y2="450.3" stroke="#000" stroke-width="0.8" />
<line x1="368.33" y1="448.3" x2="368.33" y2="450.3" stroke="#000" stroke-width="0.8" />
<line x1="370.75" y1="448.3" x2="370.75" y2="450.3" stroke="#000" stroke-width="0.8" />
<line x1="373.17" y1="448.3" x2="373.17" y2="450.3" stroke="#000" stroke-width="0.8" />
<line x1="375.59" y1="448.3" x2="375.59" y2="450.3" stroke="#000" stroke-width="0.8" />
<line x1="378.01" y1="448.3" x2="378.01" y2="450.3" stroke="#000" stroke-width="0.8" />
<line x1="380.42" y1="448.3" x2="380.42" y2="450.3" stroke="#000" stroke-width="0.8" />
<line x1="382.84" y1="448.3" x2="382.84" y2="450.3" stroke="#000" stroke-width="0.8" />
<line x1="385.26" y1="448.3" x2="385.26" y2="450.3" stroke="#000" stroke-width="0.8" />
<line x1="387.68" y1="448.3" x2="387.68" y2="450.3" stroke="#000" stroke-width="0.8" />
<line x1="390.1" y1="448.3" x2="390.1" y2="450.3" stroke="#000" stroke-width="0.8" />
<line x1="392.52" y1="448.3" x2="392.52" y2="450.3" stroke="#000" stroke-width="0.8" />
<line x1="394.94" y1="448.3" x2="394.94" y2="450.3" stroke="#000" stroke-width="0.8" />
<line x1="397.36" y1="448.3" x2="397.36" y2="450.3" stroke="#000" stroke-width="0.8" />
<line x1="399.77" y1="448.3" x2="399.77" y2="450.3" stroke="#000" stroke-width="0.8" />
<line x1="402.19" y1="448.3" x2="402.19" y2="450.3" stroke="#000" stroke-width="0.8" />
<line x1="404.61" y1="448.3" x2="404.61" y2="450.3" stroke="#000" stroke-width="0.8" />
<line x1="407.03" y1="448.3" x2="407.03" y2="450.3" stroke="#000" stroke-width="0.8" />
<line x1="409.45" y1="448.3" x2="409.45" y2="450.3" stroke="#000" stroke-width="0.8" />
<line x1="411.87" y1="448.3" x2="411.87" y2="450.3" stroke="#000" stroke-width="0.8" />
<line x1="414.29" y1="448.3" x2="414.29" y2="450.3" stroke="#000" stroke-width="0.8" />
<line x1="416.71" y1="448.3" x2="416.71" y2="450.3" stroke="#000" stroke-width="0.8" />
<line x1="419.12" y1="448.3" x2="419.12" y2="450.3" stroke="#000" stroke-width="0.8" />
<line x1="421.54" y1="448.3" x2="421.54" y2="450.3" stroke="#000" stroke-width="0.8" />
<line x1="423.96" y1="448.3" x2="423.96" y2="450.3" stroke="#000" stroke-width="0.8" />
<line x1="426.38" y1="448.3" x2="426.38" y2="450.3" stroke="#000" stroke-width="0.8" />
<line x1="428.8" y1="448.3" x2="428.8" y2="450.3" stroke="#000" stroke-width="0.8" />
<line x1="431.22" y1="448.3" x2="431.22" y2="450.3" stroke="#000" stroke-width="0.8" />
<line x1="432.99" y1="448.3" x2="432.99" y2="450.3" stroke="#000" stroke-width="0.8" />
<line x1="434.77" y1="448.3" x2="434.77" y2="450.3" stroke="#000" stroke-width="0.8" />
<line x1="436.54" y1="448.3" x2="436.54" y2="450.3" stroke="#000" stroke-width="0.8" />
<line x1="438.31" y1="448.3" x2="438.31" y2="450.3" stroke="#000" stroke-width="0.8" />
<line x1="440.09" y1="448.3" x2="440.09" y2="450.3" stroke="#000" stroke-width="0.8" />
<line x1="441.86" y1="448.3" x2="441.86" y2="450.3" stroke="#000" stroke-width="0.8" />
<line x1="443.63" y1="448.3" x2="443.63" y2="450.3" stroke="#000" stroke-width="0.8" />
<line x1="445.41" y1="448.3" x2="445.41" y2="450.3" stroke="#000" stroke-width="0.8" />
<line x1="447.18" y1="448.3" x2="447.18" y2="450.3" stroke="#000" stroke-width="0.8" />
<line x1="448.96" y1="448.3" x2="448.96" y2="450.3" stroke="#000" stroke-width="0.8" />
<line x1="450.73" y1="448.3" x2="450.73" y2="450.3" stroke="#000" stroke-width="0.8" />
<line x1="452.5" y1="448.3" x2="452.5" y2="450.3" stroke="#000" stroke-width="0.8" />
<line x1="454.28" y1="448.3" x2="454.28" y2="450.3" stroke="#000" stroke-width="0.8" />
<line x1="456.05" y1="448.3" x2="456.05" y2="450.3" stroke="#000" stroke-width="0.8" />
<line x1="457.82" y1="448.3" x2="457.82" y2="450.3" stroke="#000" stroke-width="0.8" />
<line x1="459.6" y1="448.3" x2="459.6" y2="450.3" stroke="#000" stroke-width="0.8" />
<line x1="461.37" y1="448.3" x2="461.37" y2="450.3" stroke="#000" stroke-width="0.8" />
<line x1="463.15" y1="448.3" x2="463.15" y2="450.3" stroke="#000" stroke-width="0.8" />
<line x1="464.92" y1="448.3" x2="464.92" y2="450.3" stroke="#000" stroke-width="0.8" />
<line x1="466.69" y1="448.3" x2="466.69" y2="450.3" stroke="#000" stroke-width="0.8" />
<line x1="468.47" y1="448.3" x2="468.47" y2="450.3" stroke="#000" stroke-width="0.8" />
<line x1="470.24" y1="448.3" x2="470.24" y2="450.3" stroke="#000" stroke-width="0.8" />
<line x1="472.01" y1="448.3" x2="472.01" y2="450.3" stroke="#000" stroke-width="0.8" />
<line x1="473.79" y1="448.3" x2="473.79" y2="450.3" stroke="#000" stroke-width="0.8" />
<line x1="475.56" y1="448.3" x2="475.56" y2="450.3" stroke="#000" stroke-width="0.8" />
<text transform="translate(408,480) scale(1.02,1)" font-size="10.5" text-anchor="middle" fill="#000" font-weight="normal" font-style="normal" ><tspan font-style="italic">V</tspan><tspan dy="2.5" font-size="7.5">g</tspan><tspan dy="-2.5"> (V)</tspan></text>
<text transform="translate(307,356) rotate(-90) scale(1.04,1)" font-size="10.5" text-anchor="middle" fill="#000">Contact resistance <tspan font-style="italic">W</tspan> (kWcm)</text>
<line x1="575.4" y1="278.4" x2="661.8" y2="353.1" stroke="#0000ff" stroke-width="1.1" />
<line x1="557.2" y1="319.1" x2="633.2" y2="423.6" stroke="#ff0000" stroke-width="1.1" />
<polygon points="556.3,294.57 552.6,301.17 560,301.17" fill="#0000ff"/>
<polygon points="559.5,290.47 555.8,297.07 563.2,297.07" fill="#0000ff"/>
<polygon points="563.3,285.67 559.6,292.27 567,292.27" fill="#0000ff"/>
<polygon points="566.5,285.07 562.8,291.67 570.2,291.67" fill="#0000ff"/>
<polygon points="571.2,277.07 567.5,283.67 574.9,283.67" fill="#0000ff"/>
<polygon points="576,274.57 572.3,281.17 579.7,281.17" fill="#0000ff"/>
<polygon points="582.4,281.87 578.7,288.47 586.1,288.47" fill="#0000ff"/>
<polygon points="590.6,288.17 586.9,294.77 594.3,294.77" fill="#0000ff"/>
<polygon points="600.2,292.97 596.5,299.57 603.9,299.57" fill="#0000ff"/>
<polygon points="614.1,297.47 610.4,304.07 617.8,304.07" fill="#0000ff"/>
<polygon points="633.5,324.47 629.8,331.07 637.2,331.07" fill="#0000ff"/>
<polygon points="661.8,349.27 658.1,355.87 665.5,355.87" fill="#0000ff"/>
<circle cx="557.2" cy="310.2" r="3.2" fill="url(#gr)"/>
<circle cx="562.6" cy="335" r="3.2" fill="url(#gr)"/>
<circle cx="570.9" cy="342.3" r="3.2" fill="url(#gr)"/>
<circle cx="582" cy="351.5" r="3.2" fill="url(#gr)"/>
<circle cx="600.2" cy="371.8" r="3.2" fill="url(#gr)"/>
<circle cx="633.2" cy="424.3" r="3.2" fill="url(#gr)"/>
<rect x="541.3" y="264.1" width="138" height="183.7" fill="none" stroke="#000" stroke-width="1.5"/>
<line x1="539.3" y1="448.25" x2="541.3" y2="448.25" stroke="#000" stroke-width="1" />
<line x1="539.3" y1="440.95" x2="541.3" y2="440.95" stroke="#000" stroke-width="1" />
<line x1="539.3" y1="434.78" x2="541.3" y2="434.78" stroke="#000" stroke-width="1" />
<line x1="539.3" y1="429.44" x2="541.3" y2="429.44" stroke="#000" stroke-width="1" />
<line x1="539.3" y1="424.72" x2="541.3" y2="424.72" stroke="#000" stroke-width="1" />
<line x1="537.8" y1="420.5" x2="541.3" y2="420.5" stroke="#000" stroke-width="1" />
<line x1="539.3" y1="392.75" x2="541.3" y2="392.75" stroke="#000" stroke-width="1" />
<line x1="539.3" y1="376.51" x2="541.3" y2="376.51" stroke="#000" stroke-width="1" />
<line x1="539.3" y1="364.99" x2="541.3" y2="364.99" stroke="#000" stroke-width="1" />
<line x1="539.3" y1="356.05" x2="541.3" y2="356.05" stroke="#000" stroke-width="1" />
<line x1="539.3" y1="348.75" x2="541.3" y2="348.75" stroke="#000" stroke-width="1" />
<line x1="539.3" y1="342.58" x2="541.3" y2="342.58" stroke="#000" stroke-width="1" />
<line x1="539.3" y1="337.24" x2="541.3" y2="337.24" stroke="#000" stroke-width="1" />
<line x1="539.3" y1="332.52" x2="541.3" y2="332.52" stroke="#000" stroke-width="1" />
<line x1="537.8" y1="328.3" x2="541.3" y2="328.3" stroke="#000" stroke-width="1" />
<line x1="539.3" y1="300.55" x2="541.3" y2="300.55" stroke="#000" stroke-width="1" />
<line x1="539.3" y1="284.31" x2="541.3" y2="284.31" stroke="#000" stroke-width="1" />
<line x1="539.3" y1="272.79" x2="541.3" y2="272.79" stroke="#000" stroke-width="1" />
<line x1="539.3" y1="263.85" x2="541.3" y2="263.85" stroke="#000" stroke-width="1" />
<text transform="translate(535.6,331.9) scale(1.02,1)" font-size="10.5" text-anchor="end" fill="#000" font-weight="normal" font-style="normal" >10<tspan dy="-4.9" font-size="8.2">−1</tspan></text>
<text transform="translate(535.6,424.1) scale(1.02,1)" font-size="10.5" text-anchor="end" fill="#000" font-weight="normal" font-style="normal" >10<tspan dy="-4.9" font-size="8.2">−2</tspan></text>
<line x1="541.3" y1="447.8" x2="541.3" y2="451" stroke="#000" stroke-width="1" />
<line x1="552.8" y1="447.8" x2="552.8" y2="449.8" stroke="#000" stroke-width="1" />
<text transform="translate(541.3,465.5) scale(1.02,1)" font-size="10.5" text-anchor="middle" fill="#000" font-weight="normal" font-style="normal" >2</text>
<line x1="564.3" y1="447.8" x2="564.3" y2="451" stroke="#000" stroke-width="1" />
<line x1="575.8" y1="447.8" x2="575.8" y2="449.8" stroke="#000" stroke-width="1" />
<text transform="translate(564.3,465.5) scale(1.02,1)" font-size="10.5" text-anchor="middle" fill="#000" font-weight="normal" font-style="normal" >4</text>
<line x1="587.3" y1="447.8" x2="587.3" y2="451" stroke="#000" stroke-width="1" />
<line x1="598.8" y1="447.8" x2="598.8" y2="449.8" stroke="#000" stroke-width="1" />
<text transform="translate(587.3,465.5) scale(1.02,1)" font-size="10.5" text-anchor="middle" fill="#000" font-weight="normal" font-style="normal" >6</text>
<line x1="610.3" y1="447.8" x2="610.3" y2="451" stroke="#000" stroke-width="1" />
<line x1="621.8" y1="447.8" x2="621.8" y2="449.8" stroke="#000" stroke-width="1" />
<text transform="translate(610.3,465.5) scale(1.02,1)" font-size="10.5" text-anchor="middle" fill="#000" font-weight="normal" font-style="normal" >8</text>
<line x1="633.3" y1="447.8" x2="633.3" y2="451" stroke="#000" stroke-width="1" />
<line x1="644.8" y1="447.8" x2="644.8" y2="449.8" stroke="#000" stroke-width="1" />
<text transform="translate(633.3,465.5) scale(1.02,1)" font-size="10.5" text-anchor="middle" fill="#000" font-weight="normal" font-style="normal" >10</text>
<line x1="656.3" y1="447.8" x2="656.3" y2="451" stroke="#000" stroke-width="1" />
<line x1="667.8" y1="447.8" x2="667.8" y2="449.8" stroke="#000" stroke-width="1" />
<text transform="translate(656.3,465.5) scale(1.02,1)" font-size="10.5" text-anchor="middle" fill="#000" font-weight="normal" font-style="normal" >12</text>
<line x1="679.3" y1="447.8" x2="679.3" y2="451" stroke="#000" stroke-width="1" />
<text transform="translate(679.3,465.5) scale(1.02,1)" font-size="10.5" text-anchor="middle" fill="#000" font-weight="normal" font-style="normal" >14</text>
<text transform="translate(610.3,482) scale(1.02,1)" font-size="10.5" text-anchor="middle" fill="#000" font-weight="normal" font-style="normal" >1000/<tspan font-style="italic">T</tspan> (K<tspan dy="-4" font-size="7.5">−1</tspan><tspan dy="4">)</tspan></text>
<text transform="translate(507.5,356) rotate(-90) scale(1.04,1)" font-size="10.5" text-anchor="middle" fill="#000">Mobility (cm<tspan dy="-4" font-size="7.5">2</tspan><tspan dy="4">V</tspan><tspan dy="-4" font-size="7.5">−1</tspan><tspan dy="4">s</tspan><tspan dy="-4" font-size="7.5">−1</tspan><tspan dy="4">)</tspan></text>
<line x1="87.2" y1="514.5" x2="87.2" y2="725.2" stroke="#777" stroke-width="1" />
<line x1="96.8" y1="514.5" x2="96.8" y2="725.2" stroke="#777" stroke-width="1" />
<line x1="107" y1="514.5" x2="107" y2="725.2" stroke="#777" stroke-width="1" />
<line x1="127.7" y1="514.5" x2="127.7" y2="725.2" stroke="#777" stroke-width="1" />
<line x1="148.1" y1="514.5" x2="148.1" y2="725.2" stroke="#777" stroke-width="1" />
<line x1="168.9" y1="514.5" x2="168.9" y2="725.2" stroke="#777" stroke-width="1" />
<line x1="188.8" y1="514.5" x2="188.8" y2="725.2" stroke="#777" stroke-width="1" />
<line x1="210.5" y1="514.5" x2="210.5" y2="725.2" stroke="#777" stroke-width="1" />
<line x1="232.4" y1="514.5" x2="232.4" y2="725.2" stroke="#777" stroke-width="1" />
<line x1="243.5" y1="514.5" x2="243.5" y2="725.2" stroke="#777" stroke-width="1" />
<line x1="254.6" y1="514.5" x2="254.6" y2="725.2" stroke="#777" stroke-width="1" />
<polyline points="82.8,545.6 83.17,545.6 83.53,545.6 83.9,545.6 84.27,545.6 84.63,545.6 85,545.6 85.37,545.6 85.73,545.6 86.1,545.6 86.47,545.6 86.83,545.6 87.2,545.6 88,545.64 88.8,545.77 89.6,545.98 90.4,546.25 91.2,546.56 92,546.9 92.8,547.24 93.6,547.55 94.4,547.82 95.2,548.03 96,548.16 96.8,548.2 97.65,548.15 98.5,548.01 99.35,547.79 100.2,547.5 101.05,547.16 101.9,546.8 102.75,546.44 103.6,546.1 104.45,545.81 105.3,545.59 106.15,545.45 107,545.4 108.72,545.98 110.45,547.67 112.17,550.36 113.9,553.88 115.62,557.96 117.35,562.35 119.08,566.74 120.8,570.82 122.53,574.34 124.25,577.03 125.97,578.72 127.7,579.3 129.4,578.73 131.1,577.06 132.8,574.39 134.5,570.92 136.2,566.89 137.9,562.55 139.6,558.21 141.3,554.17 143,550.71 144.7,548.04 146.4,546.37 148.1,545.8 149.83,546.43 151.57,548.29 153.3,551.23 155.03,555.07 156.77,559.55 158.5,564.35 160.23,569.15 161.97,573.62 163.7,577.47 165.43,580.41 167.17,582.27 168.9,582.9 170.56,582.27 172.22,580.44 173.88,577.53 175.53,573.73 177.19,569.3 178.85,564.55 180.51,559.8 182.17,555.38 183.83,551.57 185.48,548.66 187.14,546.83 188.8,546.2 190.61,546.76 192.42,548.42 194.23,551.05 196.03,554.48 197.84,558.47 199.65,562.75 201.46,567.03 203.27,571.02 205.07,574.45 206.88,577.08 208.69,578.74 210.5,579.3 212.32,578.74 214.15,577.08 215.97,574.45 217.8,571.02 219.62,567.03 221.45,562.75 223.28,558.47 225.1,554.48 226.93,551.05 228.75,548.42 230.57,546.76 232.4,546.2 233.33,546.24 234.25,546.34 235.18,546.51 236.1,546.73 237.03,546.98 237.95,547.25 238.88,547.52 239.8,547.77 240.72,547.99 241.65,548.16 242.57,548.26 243.5,548.3 244.43,548.26 245.35,548.16 246.28,547.99 247.2,547.77 248.12,547.52 249.05,547.25 249.97,546.98 250.9,546.73 251.82,546.51 252.75,546.34 253.67,546.24 254.6,546.2 256.36,546.83 258.12,548.66 259.88,551.57 261.63,555.38 263.39,559.8 265.15,564.55 266.91,569.3 268.67,573.73 270.43,577.53 272.18,580.44 273.94,582.27 275.7,582.9" fill="none" stroke="#000" stroke-width="1.9" stroke-linejoin="round" />
<polyline points="82.8,691.9 83.17,691.9 83.53,691.9 83.9,691.9 84.27,691.9 84.63,691.9 85,691.9 85.37,691.9 85.73,691.9 86.1,691.9 86.47,691.9 86.83,691.9 87.2,691.9 88,692.1 88.8,692.67 89.6,693.58 90.4,694.77 91.2,696.16 92,697.65 92.8,699.14 93.6,700.52 94.4,701.72 95.2,702.63 96,703.2 96.8,703.4 97.65,703.2 98.5,702.63 99.35,701.72 100.2,700.52 101.05,699.14 101.9,697.65 102.75,696.16 103.6,694.77 104.45,693.58 105.3,692.67 106.15,692.1 107,691.9 107.38,691.88 107.75,691.81 108.12,691.71 108.5,691.58 108.88,691.42 109.25,691.25 109.62,691.08 110,690.93 110.38,690.79 110.75,690.69 111.12,690.62 111.5,690.6 112.29,690.5 113.08,690.22 113.88,689.78 114.67,689.2 115.46,688.52 116.25,687.8 117.04,687.08 117.83,686.4 118.62,685.82 119.42,685.38 120.21,685.1 121,685 121.56,685.06 122.12,685.23 122.67,685.51 123.23,685.88 123.79,686.3 124.35,686.75 124.91,687.2 125.47,687.62 126.03,687.99 126.58,688.27 127.14,688.44 127.7,688.5 128.24,688.44 128.78,688.27 129.32,687.99 129.87,687.62 130.41,687.2 130.95,686.75 131.49,686.3 132.03,685.88 132.57,685.51 133.12,685.23 133.66,685.06 134.2,685 135.36,685.11 136.52,685.44 137.67,685.95 138.83,686.62 139.99,687.41 141.15,688.25 142.31,689.09 143.47,689.88 144.62,690.55 145.78,691.06 146.94,691.39 148.1,691.5 149.83,691.27 151.57,690.6 153.3,689.52 155.03,688.12 156.77,686.5 158.5,684.75 160.23,683 161.97,681.38 163.7,679.98 165.43,678.9 167.17,678.23 168.9,678 170.56,678.23 172.22,678.89 173.88,679.95 175.53,681.32 177.19,682.93 178.85,684.65 180.51,686.37 182.17,687.97 183.83,689.35 185.48,690.41 187.14,691.07 188.8,691.3 190.08,691.19 191.35,690.88 192.62,690.38 193.9,689.73 195.18,688.97 196.45,688.15 197.72,687.33 199,686.58 200.28,685.92 201.55,685.42 202.82,685.11 204.1,685 204.63,685.05 205.17,685.18 205.7,685.4 206.23,685.67 206.77,686 207.3,686.35 207.83,686.7 208.37,687.02 208.9,687.3 209.43,687.52 209.97,687.65 210.5,687.7 211.07,687.65 211.65,687.52 212.22,687.3 212.8,687.03 213.38,686.7 213.95,686.35 214.53,686 215.1,685.68 215.68,685.4 216.25,685.18 216.83,685.05 217.4,685 218.28,685.09 219.17,685.37 220.05,685.81 220.93,686.38 221.82,687.04 222.7,687.75 223.58,688.46 224.47,689.12 225.35,689.69 226.23,690.13 227.12,690.41 228,690.5 228.37,690.51 228.73,690.55 229.1,690.62 229.47,690.7 229.83,690.8 230.2,690.9 230.57,691 230.93,691.1 231.3,691.18 231.67,691.25 232.03,691.29 232.4,691.3 233.33,691.5 234.25,692.08 235.18,693.01 236.1,694.22 237.03,695.64 237.95,697.15 238.88,698.66 239.8,700.07 240.72,701.29 241.65,702.22 242.57,702.8 243.5,703 244.43,702.8 245.35,702.22 246.28,701.29 247.2,700.08 248.12,698.66 249.05,697.15 249.97,695.64 250.9,694.23 251.82,693.01 252.75,692.08 253.67,691.5 254.6,691.3 254.88,691.29 255.17,691.25 255.45,691.18 255.73,691.1 256.02,691 256.3,690.9 256.58,690.8 256.87,690.7 257.15,690.62 257.43,690.55 257.72,690.51 258,690.5 259.48,690.29 260.95,689.66 262.43,688.67 263.9,687.38 265.38,685.87 266.85,684.25 268.32,682.63 269.8,681.12 271.27,679.83 272.75,678.84 274.22,678.21 275.7,678" fill="none" stroke="#000" stroke-width="1.9" stroke-linejoin="round" />
<path d="M275.7,544.9 L290,545.3 C296,546 299,547 297.6,547.6 C293,548.5 288,550 286.5,551.7 C285,553 284.6,555 284.4,558 C283.2,562 283.4,568 284.3,572 C284.5,575 286,576.5 289.6,577.5 C292,578.5 293.5,580 292.4,581.5 C290,583 282,583.2 275.7,583.2 Z" fill="#000"/>
<path d="M275.7,677.8 L288.7,678 C288.7,680 289.5,681.5 291,683 C294,685 299,686.5 300,689.5 C299,691.5 296,692.5 292.7,694.2 C290,695.5 287.5,696.5 286.6,697.3 C286,699 286.5,700.5 285.5,701.5 C284.5,702.8 283,703.3 281,703.4 L275.7,703.6 Z" fill="#000"/>
<rect x="82.8" y="514.5" width="257" height="210.7" fill="none" stroke="#000" stroke-width="1.1"/>
<line x1="275.7" y1="514.5" x2="275.7" y2="725.2" stroke="#000" stroke-width="1.1" />
<line x1="79" y1="724.7" x2="82.8" y2="724.7" stroke="#000" stroke-width="1" />
<line x1="80.4" y1="720.14" x2="82.8" y2="720.14" stroke="#000" stroke-width="0.9" />
<line x1="80.4" y1="715.58" x2="82.8" y2="715.58" stroke="#000" stroke-width="0.9" />
<line x1="80.4" y1="711.02" x2="82.8" y2="711.02" stroke="#000" stroke-width="0.9" />
<line x1="80.4" y1="706.46" x2="82.8" y2="706.46" stroke="#000" stroke-width="0.9" />
<line x1="80.4" y1="701.9" x2="82.8" y2="701.9" stroke="#000" stroke-width="0.9" />
<line x1="80.4" y1="697.34" x2="82.8" y2="697.34" stroke="#000" stroke-width="0.9" />
<line x1="80.4" y1="692.78" x2="82.8" y2="692.78" stroke="#000" stroke-width="0.9" />
<line x1="80.4" y1="688.22" x2="82.8" y2="688.22" stroke="#000" stroke-width="0.9" />
<line x1="80.4" y1="683.66" x2="82.8" y2="683.66" stroke="#000" stroke-width="0.9" />
<line x1="79" y1="679.1" x2="82.8" y2="679.1" stroke="#000" stroke-width="1" />
<line x1="80.4" y1="674.54" x2="82.8" y2="674.54" stroke="#000" stroke-width="0.9" />
<line x1="80.4" y1="669.98" x2="82.8" y2="669.98" stroke="#000" stroke-width="0.9" />
<line x1="80.4" y1="665.42" x2="82.8" y2="665.42" stroke="#000" stroke-width="0.9" />
<line x1="80.4" y1="660.86" x2="82.8" y2="660.86" stroke="#000" stroke-width="0.9" />
<line x1="80.4" y1="656.3" x2="82.8" y2="656.3" stroke="#000" stroke-width="0.9" />
<line x1="80.4" y1="651.74" x2="82.8" y2="651.74" stroke="#000" stroke-width="0.9" />
<line x1="80.4" y1="647.18" x2="82.8" y2="647.18" stroke="#000" stroke-width="0.9" />
<line x1="80.4" y1="642.62" x2="82.8" y2="642.62" stroke="#000" stroke-width="0.9" />
<line x1="80.4" y1="638.06" x2="82.8" y2="638.06" stroke="#000" stroke-width="0.9" />
<line x1="79" y1="633.5" x2="82.8" y2="633.5" stroke="#000" stroke-width="1" />
<line x1="80.4" y1="628.94" x2="82.8" y2="628.94" stroke="#000" stroke-width="0.9" />
<line x1="80.4" y1="624.38" x2="82.8" y2="624.38" stroke="#000" stroke-width="0.9" />
<line x1="80.4" y1="619.82" x2="82.8" y2="619.82" stroke="#000" stroke-width="0.9" />
<line x1="80.4" y1="615.26" x2="82.8" y2="615.26" stroke="#000" stroke-width="0.9" />
<line x1="80.4" y1="610.7" x2="82.8" y2="610.7" stroke="#000" stroke-width="0.9" />
<line x1="80.4" y1="606.14" x2="82.8" y2="606.14" stroke="#000" stroke-width="0.9" />
<line x1="80.4" y1="601.58" x2="82.8" y2="601.58" stroke="#000" stroke-width="0.9" />
<line x1="80.4" y1="597.02" x2="82.8" y2="597.02" stroke="#000" stroke-width="0.9" />
<line x1="80.4" y1="592.46" x2="82.8" y2="592.46" stroke="#000" stroke-width="0.9" />
<line x1="79" y1="587.9" x2="82.8" y2="587.9" stroke="#000" stroke-width="1" />
<line x1="80.4" y1="583.34" x2="82.8" y2="583.34" stroke="#000" stroke-width="0.9" />
<line x1="80.4" y1="578.78" x2="82.8" y2="578.78" stroke="#000" stroke-width="0.9" />
<line x1="80.4" y1="574.22" x2="82.8" y2="574.22" stroke="#000" stroke-width="0.9" />
<line x1="80.4" y1="569.66" x2="82.8" y2="569.66" stroke="#000" stroke-width="0.9" />
<line x1="80.4" y1="565.1" x2="82.8" y2="565.1" stroke="#000" stroke-width="0.9" />
<line x1="80.4" y1="560.54" x2="82.8" y2="560.54" stroke="#000" stroke-width="0.9" />
<line x1="80.4" y1="555.98" x2="82.8" y2="555.98" stroke="#000" stroke-width="0.9" />
<line x1="80.4" y1="551.42" x2="82.8" y2="551.42" stroke="#000" stroke-width="0.9" />
<line x1="80.4" y1="546.86" x2="82.8" y2="546.86" stroke="#000" stroke-width="0.9" />
<line x1="79" y1="542.3" x2="82.8" y2="542.3" stroke="#000" stroke-width="1" />
<line x1="80.4" y1="537.74" x2="82.8" y2="537.74" stroke="#000" stroke-width="0.9" />
<line x1="80.4" y1="533.18" x2="82.8" y2="533.18" stroke="#000" stroke-width="0.9" />
<line x1="80.4" y1="528.62" x2="82.8" y2="528.62" stroke="#000" stroke-width="0.9" />
<line x1="80.4" y1="524.06" x2="82.8" y2="524.06" stroke="#000" stroke-width="0.9" />
<line x1="80.4" y1="519.5" x2="82.8" y2="519.5" stroke="#000" stroke-width="0.9" />
<line x1="80.4" y1="514.94" x2="82.8" y2="514.94" stroke="#000" stroke-width="0.9" />
<text x="74" y="545.9" font-size="10" text-anchor="end" fill="#1a1a1a" font-weight="normal" font-style="normal" >1.5</text>
<text x="74" y="591.5" font-size="10" text-anchor="end" fill="#1a1a1a" font-weight="normal" font-style="normal" >1.0</text>
<text x="74" y="637.1" font-size="10" text-anchor="end" fill="#1a1a1a" font-weight="normal" font-style="normal" >0.5</text>
<text x="74" y="682.7" font-size="10" text-anchor="end" fill="#1a1a1a" font-weight="normal" font-style="normal" >0.0</text>
<text x="74" y="728.3" font-size="10" text-anchor="end" fill="#1a1a1a" font-weight="normal" font-style="normal" >−0.5</text>
<text x="81.6" y="739" font-size="10" text-anchor="middle" fill="#1a1a1a" font-weight="normal" font-style="normal" >X</text>
<text x="89.6" y="739" font-size="10" text-anchor="middle" fill="#1a1a1a" font-weight="normal" font-style="normal" >Γ</text>
<text x="99.4" y="739" font-size="10" text-anchor="middle" fill="#1a1a1a" font-weight="normal" font-style="normal" >Y</text>
<text x="108.8" y="739" font-size="10" text-anchor="middle" fill="#1a1a1a" font-weight="normal" font-style="normal" >Γ</text>
<text x="127.5" y="739" font-size="10" text-anchor="middle" fill="#1a1a1a" font-weight="normal" font-style="normal" >Z</text>
<text x="148.6" y="739" font-size="10" text-anchor="middle" fill="#1a1a1a" font-weight="normal" font-style="normal" >Γ</text>
<text x="168.9" y="739" font-size="10" text-anchor="middle" fill="#1a1a1a" font-weight="normal" font-style="normal" >A</text>
<text x="189.3" y="739" font-size="10" text-anchor="middle" fill="#1a1a1a" font-weight="normal" font-style="normal" >Γ</text>
<text x="210.5" y="739" font-size="10" text-anchor="middle" fill="#1a1a1a" font-weight="normal" font-style="normal" >B</text>
<text x="232.8" y="739" font-size="10" text-anchor="middle" fill="#1a1a1a" font-weight="normal" font-style="normal" >Γ</text>
<text x="243.5" y="739" font-size="10" text-anchor="middle" fill="#1a1a1a" font-weight="normal" font-style="normal" >C</text>
<text x="255" y="739" font-size="10" text-anchor="middle" fill="#1a1a1a" font-weight="normal" font-style="normal" >Γ</text>
<text x="275.7" y="739" font-size="10" text-anchor="middle" fill="#1a1a1a" font-weight="normal" font-style="normal" >D</text>
<text x="179.4" y="754.3" font-size="11" text-anchor="middle" fill="#1a1a1a" font-weight="normal" font-style="normal" >Wavevector</text>
<text x="280.2" y="748.4" font-size="10.8" text-anchor="start" fill="#1a1a1a" font-weight="normal" font-style="normal" >DOS (eV<tspan dy="-4.2" font-size="7.6">−1</tspan><tspan dy="4.2">)</tspan></text>
<text transform="translate(43,619) rotate(-90)" font-size="11" text-anchor="middle" fill="#1a1a1a"><tspan font-style="italic">E</tspan>−<tspan font-style="italic">E</tspan><tspan dy="2.5" font-size="7">F</tspan><tspan dy="-2.5"> (eV)</tspan></text>
<line x1="436.5" y1="514.3" x2="436.5" y2="724.6" stroke="#777" stroke-width="1" />
<line x1="488" y1="514.3" x2="488" y2="724.6" stroke="#777" stroke-width="1" />
<line x1="540" y1="514.3" x2="540" y2="724.6" stroke="#777" stroke-width="1" />
<path d="M410.1,535 L412.3,534.98 L414.5,534.93 L416.7,534.84 L418.9,534.73 L421.1,534.59 L423.3,534.45 L425.5,534.31 L427.7,534.17 L429.9,534.06 L432.1,533.97 L434.3,533.92 L436.5,533.9 L440.79,534.81 L445.08,537.48 L449.38,541.72 L453.67,547.25 L457.96,553.69 L462.25,560.6 L466.54,567.51 L470.83,573.95 L475.12,579.48 L479.42,583.72 L483.71,586.39 L488,587.3 L492.33,586.39 L496.67,583.72 L501,579.48 L505.33,573.95 L509.67,567.51 L514,560.6 L518.33,553.69 L522.67,547.25 L527,541.72 L531.33,537.48 L535.67,534.81 L540,533.9 L540,533.9  C541.33,534.42 545.33,535.48 548,537 C550.67,538.52 553.3,540.53 556,543 C558.7,545.47 561.53,548.8 564.2,551.8 C566.87,554.8 569.38,558.05 572,561 C574.62,563.95 577.23,566.67 579.9,569.5 C582.57,572.33 585.4,575.37 588,578 C590.6,580.63 593.03,583.13 595.5,585.3 C597.97,587.47 601.58,590.05 602.8,591" fill="none" stroke="#000" stroke-width="1.9"/>
<path d="M410.1,693.6 C412.17,692.48 418.23,688.85 422.5,686.9 C426.77,684.95 431.32,683.02 435.7,681.9 C440.08,680.78 444.67,680.7 448.8,680.2 C452.93,679.7 456.6,678.18 460.5,678.9 C464.4,679.62 467.58,681.77 472.2,684.5 C476.82,687.23 483.33,695.12 488.2,695.3 C493.07,695.48 497.02,688.28 501.4,685.6 C505.78,682.92 510.13,679.95 514.5,679.2 C518.87,678.45 523.37,680.7 527.6,681.1 C531.83,681.5 535.52,681.47 539.9,681.6 C544.28,681.73 549.87,681.6 553.9,681.9 C557.93,682.2 560.45,682.23 564.1,683.4 C567.75,684.57 572.53,687.68 575.8,688.9 C579.07,690.12 580.53,691.18 583.7,690.7 C586.87,690.22 591.62,687.27 594.8,686 C597.98,684.73 601.47,683.58 602.8,683.1" fill="none" stroke="#000" stroke-width="1.9"/>
<path d="M602.8,534.1 L612,534.3 C618,534.6 623,535 623.8,535.4 C620,536.3 614,537 611.9,538.9 C609.5,541 608.6,545 608.4,548 C607.7,555 607.6,570 608,576 C608.5,580 609.5,581.5 611,583 C613,584.5 615,585.5 614.9,587.5 C614,589.8 608,590.5 602.8,590.8 Z" fill="#000"/>
<path d="M602.8,678.7 L620,679 L628.6,679.3 C634,680.2 640,681 641.8,681.6 C639,682.5 635,683 633,683.4 C630,684 628,684.8 627.2,685.5 C629,686.3 632,687.3 633,688.2 C630,689 625,689.5 621.3,689.9 C619,690.8 621,692 619.9,692.8 C616,694 612,694.7 608.2,695 L602.8,695.8 Z" fill="#000"/>
<rect x="410.1" y="514.3" width="257.1" height="210.3" fill="none" stroke="#000" stroke-width="1.1"/>
<line x1="602.8" y1="514.3" x2="602.8" y2="724.6" stroke="#000" stroke-width="1.1" />
<line x1="406.3" y1="724.6" x2="410.1" y2="724.6" stroke="#000" stroke-width="1" />
<line x1="407.7" y1="720.04" x2="410.1" y2="720.04" stroke="#000" stroke-width="0.9" />
<line x1="407.7" y1="715.48" x2="410.1" y2="715.48" stroke="#000" stroke-width="0.9" />
<line x1="407.7" y1="710.92" x2="410.1" y2="710.92" stroke="#000" stroke-width="0.9" />
<line x1="407.7" y1="706.36" x2="410.1" y2="706.36" stroke="#000" stroke-width="0.9" />
<line x1="407.7" y1="701.8" x2="410.1" y2="701.8" stroke="#000" stroke-width="0.9" />
<line x1="407.7" y1="697.24" x2="410.1" y2="697.24" stroke="#000" stroke-width="0.9" />
<line x1="407.7" y1="692.68" x2="410.1" y2="692.68" stroke="#000" stroke-width="0.9" />
<line x1="407.7" y1="688.12" x2="410.1" y2="688.12" stroke="#000" stroke-width="0.9" />
<line x1="407.7" y1="683.56" x2="410.1" y2="683.56" stroke="#000" stroke-width="0.9" />
<line x1="406.3" y1="679" x2="410.1" y2="679" stroke="#000" stroke-width="1" />
<line x1="407.7" y1="674.44" x2="410.1" y2="674.44" stroke="#000" stroke-width="0.9" />
<line x1="407.7" y1="669.88" x2="410.1" y2="669.88" stroke="#000" stroke-width="0.9" />
<line x1="407.7" y1="665.32" x2="410.1" y2="665.32" stroke="#000" stroke-width="0.9" />
<line x1="407.7" y1="660.76" x2="410.1" y2="660.76" stroke="#000" stroke-width="0.9" />
<line x1="407.7" y1="656.2" x2="410.1" y2="656.2" stroke="#000" stroke-width="0.9" />
<line x1="407.7" y1="651.64" x2="410.1" y2="651.64" stroke="#000" stroke-width="0.9" />
<line x1="407.7" y1="647.08" x2="410.1" y2="647.08" stroke="#000" stroke-width="0.9" />
<line x1="407.7" y1="642.52" x2="410.1" y2="642.52" stroke="#000" stroke-width="0.9" />
<line x1="407.7" y1="637.96" x2="410.1" y2="637.96" stroke="#000" stroke-width="0.9" />
<line x1="406.3" y1="633.4" x2="410.1" y2="633.4" stroke="#000" stroke-width="1" />
<line x1="407.7" y1="628.84" x2="410.1" y2="628.84" stroke="#000" stroke-width="0.9" />
<line x1="407.7" y1="624.28" x2="410.1" y2="624.28" stroke="#000" stroke-width="0.9" />
<line x1="407.7" y1="619.72" x2="410.1" y2="619.72" stroke="#000" stroke-width="0.9" />
<line x1="407.7" y1="615.16" x2="410.1" y2="615.16" stroke="#000" stroke-width="0.9" />
<line x1="407.7" y1="610.6" x2="410.1" y2="610.6" stroke="#000" stroke-width="0.9" />
<line x1="407.7" y1="606.04" x2="410.1" y2="606.04" stroke="#000" stroke-width="0.9" />
<line x1="407.7" y1="601.48" x2="410.1" y2="601.48" stroke="#000" stroke-width="0.9" />
<line x1="407.7" y1="596.92" x2="410.1" y2="596.92" stroke="#000" stroke-width="0.9" />
<line x1="407.7" y1="592.36" x2="410.1" y2="592.36" stroke="#000" stroke-width="0.9" />
<line x1="406.3" y1="587.8" x2="410.1" y2="587.8" stroke="#000" stroke-width="1" />
<line x1="407.7" y1="583.24" x2="410.1" y2="583.24" stroke="#000" stroke-width="0.9" />
<line x1="407.7" y1="578.68" x2="410.1" y2="578.68" stroke="#000" stroke-width="0.9" />
<line x1="407.7" y1="574.12" x2="410.1" y2="574.12" stroke="#000" stroke-width="0.9" />
<line x1="407.7" y1="569.56" x2="410.1" y2="569.56" stroke="#000" stroke-width="0.9" />
<line x1="407.7" y1="565" x2="410.1" y2="565" stroke="#000" stroke-width="0.9" />
<line x1="407.7" y1="560.44" x2="410.1" y2="560.44" stroke="#000" stroke-width="0.9" />
<line x1="407.7" y1="555.88" x2="410.1" y2="555.88" stroke="#000" stroke-width="0.9" />
<line x1="407.7" y1="551.32" x2="410.1" y2="551.32" stroke="#000" stroke-width="0.9" />
<line x1="407.7" y1="546.76" x2="410.1" y2="546.76" stroke="#000" stroke-width="0.9" />
<line x1="406.3" y1="542.2" x2="410.1" y2="542.2" stroke="#000" stroke-width="1" />
<line x1="407.7" y1="537.64" x2="410.1" y2="537.64" stroke="#000" stroke-width="0.9" />
<line x1="407.7" y1="533.08" x2="410.1" y2="533.08" stroke="#000" stroke-width="0.9" />
<line x1="407.7" y1="528.52" x2="410.1" y2="528.52" stroke="#000" stroke-width="0.9" />
<line x1="407.7" y1="523.96" x2="410.1" y2="523.96" stroke="#000" stroke-width="0.9" />
<line x1="407.7" y1="519.4" x2="410.1" y2="519.4" stroke="#000" stroke-width="0.9" />
<line x1="407.7" y1="514.84" x2="410.1" y2="514.84" stroke="#000" stroke-width="0.9" />
<text x="401.5" y="545.9" font-size="10" text-anchor="end" fill="#1a1a1a" font-weight="normal" font-style="normal" >1.5</text>
<text x="401.5" y="591.5" font-size="10" text-anchor="end" fill="#1a1a1a" font-weight="normal" font-style="normal" >1.0</text>
<text x="401.5" y="637.1" font-size="10" text-anchor="end" fill="#1a1a1a" font-weight="normal" font-style="normal" >0.5</text>
<text x="401.5" y="682.7" font-size="10" text-anchor="end" fill="#1a1a1a" font-weight="normal" font-style="normal" >0.0</text>
<text x="401.5" y="728.3" font-size="10" text-anchor="end" fill="#1a1a1a" font-weight="normal" font-style="normal" >−0.5</text>
<text x="411.3" y="738.3" font-size="10" text-anchor="middle" fill="#1a1a1a" font-weight="normal" font-style="normal" >Y</text>
<text x="436.5" y="738.3" font-size="10" text-anchor="middle" fill="#1a1a1a" font-weight="normal" font-style="normal" >Γ</text>
<text x="487.8" y="738.3" font-size="10" text-anchor="middle" fill="#1a1a1a" font-weight="normal" font-style="normal" >Z</text>
<text x="540" y="738.3" font-size="10" text-anchor="middle" fill="#1a1a1a" font-weight="normal" font-style="normal" >Γ</text>
<text x="602.8" y="738.3" font-size="10" text-anchor="middle" fill="#1a1a1a" font-weight="normal" font-style="normal" >A</text>
<text x="506.5" y="754.5" font-size="11" text-anchor="middle" fill="#1a1a1a" font-weight="normal" font-style="normal" >Wavevector</text>
<text x="606.8" y="748.2" font-size="10.8" text-anchor="start" fill="#1a1a1a" font-weight="normal" font-style="normal" >DOS (eV<tspan dy="-4.2" font-size="7.6">−1</tspan><tspan dy="4.2">)</tspan></text>
<text transform="translate(369,619) rotate(-90)" font-size="11" text-anchor="middle" fill="#1a1a1a"><tspan font-style="italic">E</tspan>−<tspan font-style="italic">E</tspan><tspan dy="2.5" font-size="7">F</tspan><tspan dy="-2.5"> (eV)</tspan></text>
</svg></body></html>
